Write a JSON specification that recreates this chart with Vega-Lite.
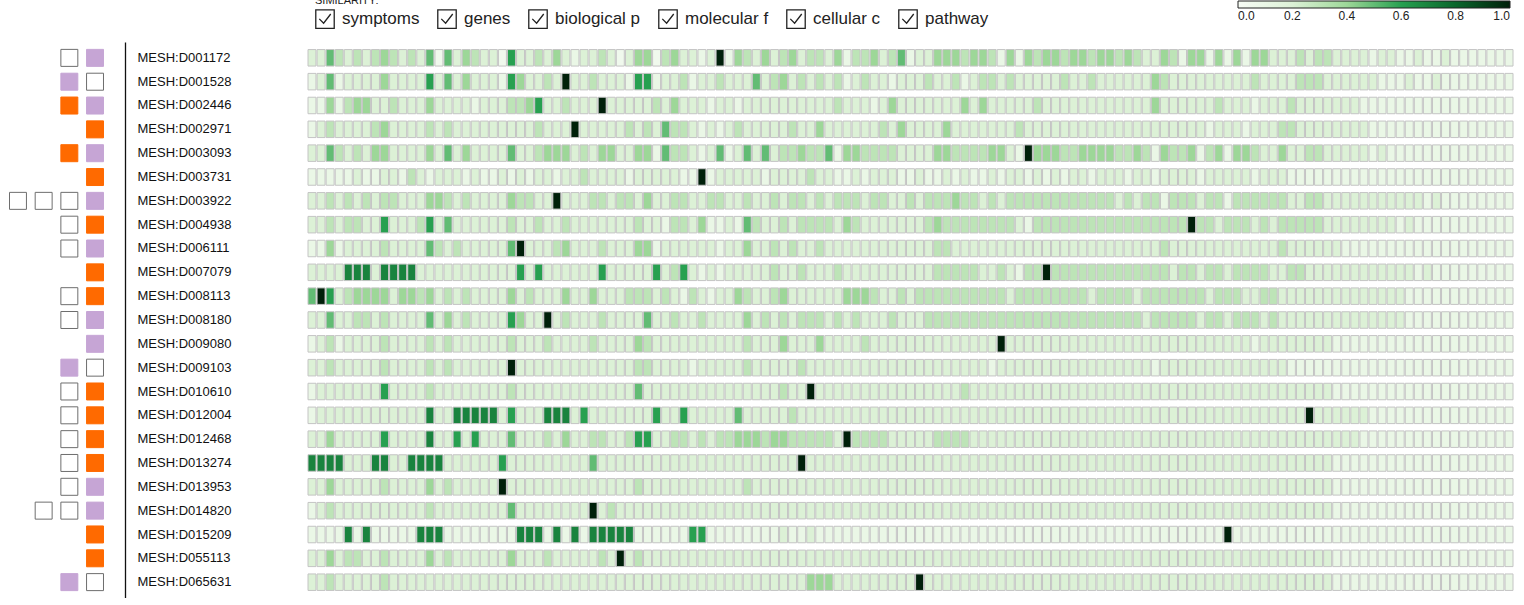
{
"$schema":"https://vega.github.io/schema/vega-lite/v6.json",
"autosize":{"type":"pad"},
"padding":{"left":0,"top":-5,"right":0,"bottom":0},
"background":"#ffffff",
"bounds":"flush",
"spacing":195,
"config":{"view":{"stroke":null,"fill":"#ffffff"},"font":"Liberation Sans"},
"resolve":{"scale":{"x":"independent","y":"independent","color":"independent","fill":"independent","stroke":"independent","shape":"independent"},"legend":{"color":"independent","shape":"independent"}},
"datasets":{
"boxes":[{"r":0,"k":3,"t":"e"},{"r":0,"k":4,"t":"p"},{"r":1,"k":3,"t":"p"},{"r":1,"k":4,"t":"e"},{"r":2,"k":3,"t":"o"},{"r":2,"k":4,"t":"p"},{"r":3,"k":4,"t":"o"},{"r":4,"k":3,"t":"o"},{"r":4,"k":4,"t":"p"},{"r":5,"k":4,"t":"o"},{"r":6,"k":1,"t":"e"},{"r":6,"k":2,"t":"e"},{"r":6,"k":3,"t":"e"},{"r":6,"k":4,"t":"p"},{"r":7,"k":3,"t":"e"},{"r":7,"k":4,"t":"o"},{"r":8,"k":3,"t":"e"},{"r":8,"k":4,"t":"p"},{"r":9,"k":4,"t":"o"},{"r":10,"k":3,"t":"e"},{"r":10,"k":4,"t":"o"},{"r":11,"k":3,"t":"e"},{"r":11,"k":4,"t":"p"},{"r":12,"k":4,"t":"p"},{"r":13,"k":3,"t":"p"},{"r":13,"k":4,"t":"e"},{"r":14,"k":3,"t":"e"},{"r":14,"k":4,"t":"o"},{"r":15,"k":3,"t":"e"},{"r":15,"k":4,"t":"o"},{"r":16,"k":3,"t":"e"},{"r":16,"k":4,"t":"o"},{"r":17,"k":3,"t":"e"},{"r":17,"k":4,"t":"o"},{"r":18,"k":3,"t":"e"},{"r":18,"k":4,"t":"p"},{"r":19,"k":2,"t":"e"},{"r":19,"k":3,"t":"e"},{"r":19,"k":4,"t":"p"},{"r":20,"k":4,"t":"o"},{"r":21,"k":4,"t":"o"},{"r":22,"k":3,"t":"p"},{"r":22,"k":4,"t":"e"}],
"sim":[{"s":"symptoms"},{"s":"genes"},{"s":"biological p"},{"s":"molecular f"},{"s":"cellular c"},{"s":"pathway"}],
"cells":[
{"r":0,"c":0,"v":2},{"r":0,"c":1,"v":2},{"r":0,"c":2,"v":5},{"r":0,"c":3,"v":3},{"r":0,"c":4,"v":2},{"r":0,"c":5,"v":3},{"r":0,"c":6,"v":2},{"r":0,"c":7,"v":3},{"r":0,"c":8,"v":4},{"r":0,"c":9,"v":3},
{"r":0,"c":10,"v":2},{"r":0,"c":11,"v":3},{"r":0,"c":12,"v":2},{"r":0,"c":13,"v":5},{"r":0,"c":14,"v":0.5},{"r":0,"c":15,"v":5},{"r":0,"c":16,"v":2},{"r":0,"c":17,"v":4},{"r":0,"c":18,"v":3},{"r":0,"c":19,"v":2},
{"r":0,"c":20,"v":2},{"r":0,"c":21,"v":0.5},{"r":0,"c":22,"v":6},{"r":0,"c":23,"v":2},{"r":0,"c":24,"v":2},{"r":0,"c":25,"v":3},{"r":0,"c":26,"v":2},{"r":0,"c":27,"v":4},{"r":0,"c":28,"v":2},{"r":0,"c":29,"v":1},
{"r":0,"c":30,"v":2},{"r":0,"c":31,"v":2},{"r":0,"c":32,"v":3},{"r":0,"c":33,"v":2},{"r":0,"c":34,"v":0.5},{"r":0,"c":35,"v":2},{"r":0,"c":36,"v":4},{"r":0,"c":37,"v":4},{"r":0,"c":38,"v":0.5},{"r":0,"c":39,"v":3},
{"r":0,"c":40,"v":4},{"r":0,"c":41,"v":2},{"r":0,"c":42,"v":2},{"r":0,"c":43,"v":1},{"r":0,"c":44,"v":2},{"r":0,"c":45,"v":10},{"r":0,"c":46,"v":1},{"r":0,"c":47,"v":4},{"r":0,"c":48,"v":3},{"r":0,"c":49,"v":2},
{"r":0,"c":50,"v":4},{"r":0,"c":51,"v":2},{"r":0,"c":52,"v":3},{"r":0,"c":53,"v":4},{"r":0,"c":54,"v":2},{"r":0,"c":55,"v":3},{"r":0,"c":56,"v":3},{"r":0,"c":57,"v":2},{"r":0,"c":58,"v":4},{"r":0,"c":59,"v":1},
{"r":0,"c":60,"v":3},{"r":0,"c":61,"v":3},{"r":0,"c":62,"v":4},{"r":0,"c":63,"v":2},{"r":0,"c":64,"v":3},{"r":0,"c":65,"v":5},{"r":0,"c":66,"v":1},{"r":0,"c":67,"v":2},{"r":0,"c":68,"v":2},{"r":0,"c":69,"v":4},
{"r":0,"c":70,"v":4},{"r":0,"c":71,"v":4},{"r":0,"c":72,"v":3},{"r":0,"c":73,"v":4},{"r":0,"c":74,"v":4},{"r":0,"c":75,"v":3},{"r":0,"c":76,"v":1},{"r":0,"c":77,"v":4},{"r":0,"c":78,"v":1},{"r":0,"c":79,"v":4},
{"r":0,"c":80,"v":3},{"r":0,"c":81,"v":4},{"r":0,"c":82,"v":4},{"r":0,"c":83,"v":3},{"r":0,"c":84,"v":4},{"r":0,"c":85,"v":4},{"r":0,"c":86,"v":3},{"r":0,"c":87,"v":4},{"r":0,"c":88,"v":4},{"r":0,"c":89,"v":3},
{"r":0,"c":90,"v":4},{"r":0,"c":91,"v":3},{"r":0,"c":92,"v":2},{"r":0,"c":93,"v":2},{"r":0,"c":94,"v":4},{"r":0,"c":95,"v":3},{"r":0,"c":96,"v":1},{"r":0,"c":97,"v":4},{"r":0,"c":98,"v":4},{"r":0,"c":99,"v":1},
{"r":0,"c":100,"v":4},{"r":0,"c":101,"v":1},{"r":0,"c":102,"v":4},{"r":0,"c":103,"v":1},{"r":0,"c":104,"v":4},{"r":0,"c":105,"v":4},{"r":0,"c":106,"v":2},{"r":0,"c":107,"v":2},{"r":0,"c":108,"v":2},{"r":0,"c":109,"v":3},
{"r":0,"c":110,"v":2},{"r":0,"c":111,"v":3},{"r":0,"c":112,"v":3},{"r":0,"c":113,"v":2},{"r":0,"c":114,"v":2},{"r":0,"c":115,"v":2},{"r":0,"c":116,"v":2},{"r":0,"c":117,"v":1},{"r":0,"c":118,"v":2},{"r":0,"c":119,"v":2},
{"r":0,"c":120,"v":1},{"r":0,"c":121,"v":1},{"r":0,"c":122,"v":2},{"r":0,"c":123,"v":1},{"r":0,"c":124,"v":1},{"r":0,"c":125,"v":2},{"r":0,"c":126,"v":1},{"r":0,"c":127,"v":1},{"r":0,"c":128,"v":1},{"r":0,"c":129,"v":1},
{"r":0,"c":130,"v":1},{"r":0,"c":131,"v":1},{"r":0,"c":132,"v":1},
{"r":1,"c":0,"v":1},{"r":1,"c":1,"v":2},{"r":1,"c":2,"v":5},{"r":1,"c":3,"v":1},{"r":1,"c":4,"v":2},{"r":1,"c":5,"v":2},{"r":1,"c":6,"v":2},{"r":1,"c":7,"v":2},{"r":1,"c":8,"v":4},{"r":1,"c":9,"v":2},
{"r":1,"c":10,"v":2},{"r":1,"c":11,"v":2},{"r":1,"c":12,"v":2},{"r":1,"c":13,"v":6},{"r":1,"c":14,"v":2},{"r":1,"c":15,"v":5},{"r":1,"c":16,"v":2},{"r":1,"c":17,"v":4},{"r":1,"c":18,"v":2},{"r":1,"c":19,"v":2},
{"r":1,"c":20,"v":2},{"r":1,"c":21,"v":1},{"r":1,"c":22,"v":6},{"r":1,"c":23,"v":4},{"r":1,"c":24,"v":2},{"r":1,"c":25,"v":2},{"r":1,"c":26,"v":3},{"r":1,"c":27,"v":2},{"r":1,"c":28,"v":10},{"r":1,"c":29,"v":2},
{"r":1,"c":30,"v":2},{"r":1,"c":31,"v":3},{"r":1,"c":32,"v":2},{"r":1,"c":33,"v":2},{"r":1,"c":34,"v":2},{"r":1,"c":35,"v":1},{"r":1,"c":36,"v":6},{"r":1,"c":37,"v":6},{"r":1,"c":38,"v":1},{"r":1,"c":39,"v":2},
{"r":1,"c":40,"v":2},{"r":1,"c":41,"v":3},{"r":1,"c":42,"v":1},{"r":1,"c":43,"v":2},{"r":1,"c":44,"v":2},{"r":1,"c":45,"v":3},{"r":1,"c":46,"v":2},{"r":1,"c":47,"v":2},{"r":1,"c":48,"v":2},{"r":1,"c":49,"v":5},
{"r":1,"c":50,"v":2},{"r":1,"c":51,"v":3},{"r":1,"c":52,"v":4},{"r":1,"c":53,"v":2},{"r":1,"c":54,"v":3},{"r":1,"c":55,"v":2},{"r":1,"c":56,"v":3},{"r":1,"c":57,"v":2},{"r":1,"c":58,"v":3},{"r":1,"c":59,"v":1},
{"r":1,"c":60,"v":2},{"r":1,"c":61,"v":3},{"r":1,"c":62,"v":2},{"r":1,"c":63,"v":2},{"r":1,"c":64,"v":1},{"r":1,"c":65,"v":2},{"r":1,"c":66,"v":2},{"r":1,"c":67,"v":2},{"r":1,"c":68,"v":3},{"r":1,"c":69,"v":2},
{"r":1,"c":70,"v":2},{"r":1,"c":71,"v":3},{"r":1,"c":72,"v":1},{"r":1,"c":73,"v":2},{"r":1,"c":74,"v":3},{"r":1,"c":75,"v":3},{"r":1,"c":76,"v":2},{"r":1,"c":77,"v":3},{"r":1,"c":78,"v":2},{"r":1,"c":79,"v":2},
{"r":1,"c":80,"v":2},{"r":1,"c":81,"v":2},{"r":1,"c":82,"v":2},{"r":1,"c":83,"v":3},{"r":1,"c":84,"v":2},{"r":1,"c":85,"v":2},{"r":1,"c":86,"v":3},{"r":1,"c":87,"v":2},{"r":1,"c":88,"v":2},{"r":1,"c":89,"v":2},
{"r":1,"c":90,"v":2},{"r":1,"c":91,"v":2},{"r":1,"c":92,"v":2},{"r":1,"c":93,"v":4},{"r":1,"c":94,"v":3},{"r":1,"c":95,"v":2},{"r":1,"c":96,"v":2},{"r":1,"c":97,"v":2},{"r":1,"c":98,"v":2},{"r":1,"c":99,"v":2},
{"r":1,"c":100,"v":2},{"r":1,"c":101,"v":2},{"r":1,"c":102,"v":2},{"r":1,"c":103,"v":2},{"r":1,"c":104,"v":3},{"r":1,"c":105,"v":2},{"r":1,"c":106,"v":2},{"r":1,"c":107,"v":2},{"r":1,"c":108,"v":2},{"r":1,"c":109,"v":3},
{"r":1,"c":110,"v":3},{"r":1,"c":111,"v":3},{"r":1,"c":112,"v":2},{"r":1,"c":113,"v":2},{"r":1,"c":114,"v":2},{"r":1,"c":115,"v":2},{"r":1,"c":116,"v":2},{"r":1,"c":117,"v":2},{"r":1,"c":118,"v":1},{"r":1,"c":119,"v":1},
{"r":1,"c":120,"v":1},{"r":1,"c":121,"v":2},{"r":1,"c":122,"v":1},{"r":1,"c":123,"v":1},{"r":1,"c":124,"v":2},{"r":1,"c":125,"v":1},{"r":1,"c":126,"v":1},{"r":1,"c":127,"v":1},{"r":1,"c":128,"v":1},{"r":1,"c":129,"v":1},
{"r":1,"c":130,"v":1},{"r":1,"c":131,"v":1},{"r":1,"c":132,"v":1},
{"r":2,"c":0,"v":1},{"r":2,"c":1,"v":1},{"r":2,"c":2,"v":4},{"r":2,"c":3,"v":1},{"r":2,"c":4,"v":3},{"r":2,"c":5,"v":4},{"r":2,"c":6,"v":4},{"r":2,"c":7,"v":2},{"r":2,"c":8,"v":2},{"r":2,"c":9,"v":3},
{"r":2,"c":10,"v":2},{"r":2,"c":11,"v":2},{"r":2,"c":12,"v":2},{"r":2,"c":13,"v":4},{"r":2,"c":14,"v":2},{"r":2,"c":15,"v":2},{"r":2,"c":16,"v":2},{"r":2,"c":17,"v":2},{"r":2,"c":18,"v":1},{"r":2,"c":19,"v":2},
{"r":2,"c":20,"v":2},{"r":2,"c":21,"v":2},{"r":2,"c":22,"v":3},{"r":2,"c":23,"v":3},{"r":2,"c":24,"v":4},{"r":2,"c":25,"v":6},{"r":2,"c":26,"v":2},{"r":2,"c":27,"v":2},{"r":2,"c":28,"v":3},{"r":2,"c":29,"v":2},
{"r":2,"c":30,"v":2},{"r":2,"c":31,"v":2},{"r":2,"c":32,"v":10},{"r":2,"c":33,"v":2},{"r":2,"c":34,"v":2},{"r":2,"c":35,"v":2},{"r":2,"c":36,"v":2},{"r":2,"c":37,"v":2},{"r":2,"c":38,"v":3},{"r":2,"c":39,"v":2},
{"r":2,"c":40,"v":4},{"r":2,"c":41,"v":2},{"r":2,"c":42,"v":2},{"r":2,"c":43,"v":2},{"r":2,"c":44,"v":1},{"r":2,"c":45,"v":2},{"r":2,"c":46,"v":2},{"r":2,"c":47,"v":1},{"r":2,"c":48,"v":2},{"r":2,"c":49,"v":2},
{"r":2,"c":50,"v":2},{"r":2,"c":51,"v":2},{"r":2,"c":52,"v":2},{"r":2,"c":53,"v":2},{"r":2,"c":54,"v":2},{"r":2,"c":55,"v":2},{"r":2,"c":56,"v":2},{"r":2,"c":57,"v":2},{"r":2,"c":58,"v":3},{"r":2,"c":59,"v":2},
{"r":2,"c":60,"v":2},{"r":2,"c":61,"v":2},{"r":2,"c":62,"v":1},{"r":2,"c":63,"v":2},{"r":2,"c":64,"v":4},{"r":2,"c":65,"v":2},{"r":2,"c":66,"v":2},{"r":2,"c":67,"v":2},{"r":2,"c":68,"v":2},{"r":2,"c":69,"v":2},
{"r":2,"c":70,"v":2},{"r":2,"c":71,"v":2},{"r":2,"c":72,"v":4},{"r":2,"c":73,"v":2},{"r":2,"c":74,"v":4},{"r":2,"c":75,"v":2},{"r":2,"c":76,"v":2},{"r":2,"c":77,"v":2},{"r":2,"c":78,"v":2},{"r":2,"c":79,"v":2},
{"r":2,"c":80,"v":3},{"r":2,"c":81,"v":2},{"r":2,"c":82,"v":2},{"r":2,"c":83,"v":2},{"r":2,"c":84,"v":2},{"r":2,"c":85,"v":2},{"r":2,"c":86,"v":2},{"r":2,"c":87,"v":2},{"r":2,"c":88,"v":2},{"r":2,"c":89,"v":2},
{"r":2,"c":90,"v":2},{"r":2,"c":91,"v":2},{"r":2,"c":92,"v":2},{"r":2,"c":93,"v":4},{"r":2,"c":94,"v":2},{"r":2,"c":95,"v":2},{"r":2,"c":96,"v":2},{"r":2,"c":97,"v":2},{"r":2,"c":98,"v":2},{"r":2,"c":99,"v":2},
{"r":2,"c":100,"v":3},{"r":2,"c":101,"v":2},{"r":2,"c":102,"v":2},{"r":2,"c":103,"v":2},{"r":2,"c":104,"v":1},{"r":2,"c":105,"v":2},{"r":2,"c":106,"v":2},{"r":2,"c":107,"v":2},{"r":2,"c":108,"v":3},{"r":2,"c":109,"v":2},
{"r":2,"c":110,"v":2},{"r":2,"c":111,"v":2},{"r":2,"c":112,"v":2},{"r":2,"c":113,"v":2},{"r":2,"c":114,"v":2},{"r":2,"c":115,"v":2},{"r":2,"c":116,"v":1},{"r":2,"c":117,"v":1},{"r":2,"c":118,"v":1},{"r":2,"c":119,"v":1},
{"r":2,"c":120,"v":1},{"r":2,"c":121,"v":1},{"r":2,"c":122,"v":1},{"r":2,"c":123,"v":1},{"r":2,"c":124,"v":1},{"r":2,"c":125,"v":1},{"r":2,"c":126,"v":1},{"r":2,"c":127,"v":1},{"r":2,"c":128,"v":1},{"r":2,"c":129,"v":1},
{"r":2,"c":130,"v":1},{"r":2,"c":131,"v":1},{"r":2,"c":132,"v":1},
{"r":3,"c":0,"v":1},{"r":3,"c":1,"v":2},{"r":3,"c":2,"v":3},{"r":3,"c":3,"v":2},{"r":3,"c":4,"v":2},{"r":3,"c":5,"v":2},{"r":3,"c":6,"v":2},{"r":3,"c":7,"v":3},{"r":3,"c":8,"v":4},{"r":3,"c":9,"v":2},
{"r":3,"c":10,"v":2},{"r":3,"c":11,"v":2},{"r":3,"c":12,"v":2},{"r":3,"c":13,"v":3},{"r":3,"c":14,"v":2},{"r":3,"c":15,"v":3},{"r":3,"c":16,"v":2},{"r":3,"c":17,"v":2},{"r":3,"c":18,"v":2},{"r":3,"c":19,"v":2},
{"r":3,"c":20,"v":2},{"r":3,"c":21,"v":2},{"r":3,"c":22,"v":2},{"r":3,"c":23,"v":2},{"r":3,"c":24,"v":2},{"r":3,"c":25,"v":3},{"r":3,"c":26,"v":2},{"r":3,"c":27,"v":2},{"r":3,"c":28,"v":2},{"r":3,"c":29,"v":10},
{"r":3,"c":30,"v":2},{"r":3,"c":31,"v":2},{"r":3,"c":32,"v":2},{"r":3,"c":33,"v":2},{"r":3,"c":34,"v":2},{"r":3,"c":35,"v":3},{"r":3,"c":36,"v":2},{"r":3,"c":37,"v":3},{"r":3,"c":38,"v":2},{"r":3,"c":39,"v":5},
{"r":3,"c":40,"v":3},{"r":3,"c":41,"v":3},{"r":3,"c":42,"v":2},{"r":3,"c":43,"v":1},{"r":3,"c":44,"v":2},{"r":3,"c":45,"v":1},{"r":3,"c":46,"v":2},{"r":3,"c":47,"v":3},{"r":3,"c":48,"v":2},{"r":3,"c":49,"v":2},
{"r":3,"c":50,"v":2},{"r":3,"c":51,"v":2},{"r":3,"c":52,"v":2},{"r":3,"c":53,"v":3},{"r":3,"c":54,"v":2},{"r":3,"c":55,"v":2},{"r":3,"c":56,"v":4},{"r":3,"c":57,"v":2},{"r":3,"c":58,"v":2},{"r":3,"c":59,"v":2},
{"r":3,"c":60,"v":2},{"r":3,"c":61,"v":2},{"r":3,"c":62,"v":2},{"r":3,"c":63,"v":3},{"r":3,"c":64,"v":2},{"r":3,"c":65,"v":4},{"r":3,"c":66,"v":2},{"r":3,"c":67,"v":2},{"r":3,"c":68,"v":2},{"r":3,"c":69,"v":2},
{"r":3,"c":70,"v":4},{"r":3,"c":71,"v":2},{"r":3,"c":72,"v":2},{"r":3,"c":73,"v":2},{"r":3,"c":74,"v":2},{"r":3,"c":75,"v":2},{"r":3,"c":76,"v":2},{"r":3,"c":77,"v":2},{"r":3,"c":78,"v":3},{"r":3,"c":79,"v":2},
{"r":3,"c":80,"v":2},{"r":3,"c":81,"v":2},{"r":3,"c":82,"v":2},{"r":3,"c":83,"v":2},{"r":3,"c":84,"v":2},{"r":3,"c":85,"v":2},{"r":3,"c":86,"v":2},{"r":3,"c":87,"v":2},{"r":3,"c":88,"v":2},{"r":3,"c":89,"v":2},
{"r":3,"c":90,"v":2},{"r":3,"c":91,"v":2},{"r":3,"c":92,"v":2},{"r":3,"c":93,"v":2},{"r":3,"c":94,"v":2},{"r":3,"c":95,"v":2},{"r":3,"c":96,"v":2},{"r":3,"c":97,"v":2},{"r":3,"c":98,"v":2},{"r":3,"c":99,"v":1},
{"r":3,"c":100,"v":2},{"r":3,"c":101,"v":2},{"r":3,"c":102,"v":2},{"r":3,"c":103,"v":1},{"r":3,"c":104,"v":2},{"r":3,"c":105,"v":2},{"r":3,"c":106,"v":2},{"r":3,"c":107,"v":3},{"r":3,"c":108,"v":3},{"r":3,"c":109,"v":2},
{"r":3,"c":110,"v":2},{"r":3,"c":111,"v":2},{"r":3,"c":112,"v":2},{"r":3,"c":113,"v":2},{"r":3,"c":114,"v":2},{"r":3,"c":115,"v":2},{"r":3,"c":116,"v":2},{"r":3,"c":117,"v":1},{"r":3,"c":118,"v":1},{"r":3,"c":119,"v":1},
{"r":3,"c":120,"v":1},{"r":3,"c":121,"v":1},{"r":3,"c":122,"v":1},{"r":3,"c":123,"v":1},{"r":3,"c":124,"v":1},{"r":3,"c":125,"v":1},{"r":3,"c":126,"v":1},{"r":3,"c":127,"v":1},{"r":3,"c":128,"v":1},{"r":3,"c":129,"v":1},
{"r":3,"c":130,"v":1},{"r":3,"c":131,"v":1},{"r":3,"c":132,"v":1},
{"r":4,"c":0,"v":2},{"r":4,"c":1,"v":2},{"r":4,"c":2,"v":5},{"r":4,"c":3,"v":3},{"r":4,"c":4,"v":2},{"r":4,"c":5,"v":3},{"r":4,"c":6,"v":2},{"r":4,"c":7,"v":4},{"r":4,"c":8,"v":4},{"r":4,"c":9,"v":2},
{"r":4,"c":10,"v":2},{"r":4,"c":11,"v":2},{"r":4,"c":12,"v":2},{"r":4,"c":13,"v":4},{"r":4,"c":14,"v":2},{"r":4,"c":15,"v":5},{"r":4,"c":16,"v":2},{"r":4,"c":17,"v":4},{"r":4,"c":18,"v":2},{"r":4,"c":19,"v":2},
{"r":4,"c":20,"v":2},{"r":4,"c":21,"v":2},{"r":4,"c":22,"v":5},{"r":4,"c":23,"v":2},{"r":4,"c":24,"v":2},{"r":4,"c":25,"v":3},{"r":4,"c":26,"v":4},{"r":4,"c":27,"v":4},{"r":4,"c":28,"v":4},{"r":4,"c":29,"v":2},
{"r":4,"c":30,"v":3},{"r":4,"c":31,"v":2},{"r":4,"c":32,"v":4},{"r":4,"c":33,"v":4},{"r":4,"c":34,"v":2},{"r":4,"c":35,"v":2},{"r":4,"c":36,"v":4},{"r":4,"c":37,"v":4},{"r":4,"c":38,"v":1},{"r":4,"c":39,"v":5},
{"r":4,"c":40,"v":3},{"r":4,"c":41,"v":3},{"r":4,"c":42,"v":2},{"r":4,"c":43,"v":1},{"r":4,"c":44,"v":2},{"r":4,"c":45,"v":5},{"r":4,"c":46,"v":1},{"r":4,"c":47,"v":2},{"r":4,"c":48,"v":5},{"r":4,"c":49,"v":2},
{"r":4,"c":50,"v":5},{"r":4,"c":51,"v":2},{"r":4,"c":52,"v":3},{"r":4,"c":53,"v":3},{"r":4,"c":54,"v":4},{"r":4,"c":55,"v":3},{"r":4,"c":56,"v":3},{"r":4,"c":57,"v":5},{"r":4,"c":58,"v":1},{"r":4,"c":59,"v":4},
{"r":4,"c":60,"v":4},{"r":4,"c":61,"v":3},{"r":4,"c":62,"v":3},{"r":4,"c":63,"v":3},{"r":4,"c":64,"v":3},{"r":4,"c":65,"v":2},{"r":4,"c":66,"v":2},{"r":4,"c":67,"v":2},{"r":4,"c":68,"v":2},{"r":4,"c":69,"v":4},
{"r":4,"c":70,"v":4},{"r":4,"c":71,"v":3},{"r":4,"c":72,"v":3},{"r":4,"c":73,"v":3},{"r":4,"c":74,"v":3},{"r":4,"c":75,"v":4},{"r":4,"c":76,"v":4},{"r":4,"c":77,"v":2},{"r":4,"c":78,"v":1},{"r":4,"c":79,"v":10},
{"r":4,"c":80,"v":4},{"r":4,"c":81,"v":4},{"r":4,"c":82,"v":4},{"r":4,"c":83,"v":3},{"r":4,"c":84,"v":3},{"r":4,"c":85,"v":4},{"r":4,"c":86,"v":4},{"r":4,"c":87,"v":4},{"r":4,"c":88,"v":4},{"r":4,"c":89,"v":3},
{"r":4,"c":90,"v":3},{"r":4,"c":91,"v":4},{"r":4,"c":92,"v":3},{"r":4,"c":93,"v":1},{"r":4,"c":94,"v":4},{"r":4,"c":95,"v":3},{"r":4,"c":96,"v":3},{"r":4,"c":97,"v":4},{"r":4,"c":98,"v":1},{"r":4,"c":99,"v":3},
{"r":4,"c":100,"v":4},{"r":4,"c":101,"v":1},{"r":4,"c":102,"v":4},{"r":4,"c":103,"v":4},{"r":4,"c":104,"v":3},{"r":4,"c":105,"v":2},{"r":4,"c":106,"v":2},{"r":4,"c":107,"v":4},{"r":4,"c":108,"v":2},{"r":4,"c":109,"v":2},
{"r":4,"c":110,"v":3},{"r":4,"c":111,"v":3},{"r":4,"c":112,"v":2},{"r":4,"c":113,"v":2},{"r":4,"c":114,"v":2},{"r":4,"c":115,"v":2},{"r":4,"c":116,"v":2},{"r":4,"c":117,"v":1},{"r":4,"c":118,"v":2},{"r":4,"c":119,"v":1},
{"r":4,"c":120,"v":1},{"r":4,"c":121,"v":1},{"r":4,"c":122,"v":1},{"r":4,"c":123,"v":1},{"r":4,"c":124,"v":1},{"r":4,"c":125,"v":1},{"r":4,"c":126,"v":1},{"r":4,"c":127,"v":1},{"r":4,"c":128,"v":1},{"r":4,"c":129,"v":1},
{"r":4,"c":130,"v":1},{"r":4,"c":131,"v":1},{"r":4,"c":132,"v":1},
{"r":5,"c":0,"v":1},{"r":5,"c":1,"v":1},{"r":5,"c":2,"v":1},{"r":5,"c":3,"v":1},{"r":5,"c":4,"v":1},{"r":5,"c":5,"v":2},{"r":5,"c":6,"v":1},{"r":5,"c":7,"v":1},{"r":5,"c":8,"v":2},{"r":5,"c":9,"v":2},
{"r":5,"c":10,"v":1},{"r":5,"c":11,"v":3},{"r":5,"c":12,"v":2},{"r":5,"c":13,"v":1},{"r":5,"c":14,"v":2},{"r":5,"c":15,"v":2},{"r":5,"c":16,"v":2},{"r":5,"c":17,"v":1},{"r":5,"c":18,"v":2},{"r":5,"c":19,"v":1},
{"r":5,"c":20,"v":1},{"r":5,"c":21,"v":2},{"r":5,"c":22,"v":1},{"r":5,"c":23,"v":2},{"r":5,"c":24,"v":1},{"r":5,"c":25,"v":2},{"r":5,"c":26,"v":2},{"r":5,"c":27,"v":1},{"r":5,"c":28,"v":2},{"r":5,"c":29,"v":2},
{"r":5,"c":30,"v":3},{"r":5,"c":31,"v":2},{"r":5,"c":32,"v":2},{"r":5,"c":33,"v":2},{"r":5,"c":34,"v":2},{"r":5,"c":35,"v":1},{"r":5,"c":36,"v":2},{"r":5,"c":37,"v":2},{"r":5,"c":38,"v":2},{"r":5,"c":39,"v":2},
{"r":5,"c":40,"v":2},{"r":5,"c":41,"v":1},{"r":5,"c":42,"v":1},{"r":5,"c":43,"v":10},{"r":5,"c":44,"v":1},{"r":5,"c":45,"v":2},{"r":5,"c":46,"v":2},{"r":5,"c":47,"v":2},{"r":5,"c":48,"v":2},{"r":5,"c":49,"v":2},
{"r":5,"c":50,"v":1},{"r":5,"c":51,"v":2},{"r":5,"c":52,"v":2},{"r":5,"c":53,"v":2},{"r":5,"c":54,"v":2},{"r":5,"c":55,"v":3},{"r":5,"c":56,"v":2},{"r":5,"c":57,"v":2},{"r":5,"c":58,"v":1},{"r":5,"c":59,"v":1},
{"r":5,"c":60,"v":2},{"r":5,"c":61,"v":1},{"r":5,"c":62,"v":2},{"r":5,"c":63,"v":2},{"r":5,"c":64,"v":2},{"r":5,"c":65,"v":1},{"r":5,"c":66,"v":1},{"r":5,"c":67,"v":2},{"r":5,"c":68,"v":1},{"r":5,"c":69,"v":1},
{"r":5,"c":70,"v":2},{"r":5,"c":71,"v":1},{"r":5,"c":72,"v":2},{"r":5,"c":73,"v":1},{"r":5,"c":74,"v":1},{"r":5,"c":75,"v":2},{"r":5,"c":76,"v":1},{"r":5,"c":77,"v":2},{"r":5,"c":78,"v":2},{"r":5,"c":79,"v":1},
{"r":5,"c":80,"v":2},{"r":5,"c":81,"v":1},{"r":5,"c":82,"v":2},{"r":5,"c":83,"v":1},{"r":5,"c":84,"v":2},{"r":5,"c":85,"v":2},{"r":5,"c":86,"v":1},{"r":5,"c":87,"v":2},{"r":5,"c":88,"v":2},{"r":5,"c":89,"v":2},
{"r":5,"c":90,"v":1},{"r":5,"c":91,"v":2},{"r":5,"c":92,"v":2},{"r":5,"c":93,"v":1},{"r":5,"c":94,"v":2},{"r":5,"c":95,"v":2},{"r":5,"c":96,"v":2},{"r":5,"c":97,"v":2},{"r":5,"c":98,"v":1},{"r":5,"c":99,"v":2},
{"r":5,"c":100,"v":2},{"r":5,"c":101,"v":2},{"r":5,"c":102,"v":2},{"r":5,"c":103,"v":2},{"r":5,"c":104,"v":1},{"r":5,"c":105,"v":2},{"r":5,"c":106,"v":2},{"r":5,"c":107,"v":2},{"r":5,"c":108,"v":1},{"r":5,"c":109,"v":1},
{"r":5,"c":110,"v":1},{"r":5,"c":111,"v":1},{"r":5,"c":112,"v":1},{"r":5,"c":113,"v":1},{"r":5,"c":114,"v":1},{"r":5,"c":115,"v":1},{"r":5,"c":116,"v":1},{"r":5,"c":117,"v":1},{"r":5,"c":118,"v":1},{"r":5,"c":119,"v":1},
{"r":5,"c":120,"v":1},{"r":5,"c":121,"v":1},{"r":5,"c":122,"v":1},{"r":5,"c":123,"v":1},{"r":5,"c":124,"v":1},{"r":5,"c":125,"v":1},{"r":5,"c":126,"v":1},{"r":5,"c":127,"v":1},{"r":5,"c":128,"v":1},{"r":5,"c":129,"v":1},
{"r":5,"c":130,"v":1},{"r":5,"c":131,"v":1},{"r":5,"c":132,"v":1},
{"r":6,"c":0,"v":2},{"r":6,"c":1,"v":2},{"r":6,"c":2,"v":3},{"r":6,"c":3,"v":2},{"r":6,"c":4,"v":3},{"r":6,"c":5,"v":2},{"r":6,"c":6,"v":3},{"r":6,"c":7,"v":2},{"r":6,"c":8,"v":3},{"r":6,"c":9,"v":3},
{"r":6,"c":10,"v":2},{"r":6,"c":11,"v":2},{"r":6,"c":12,"v":2},{"r":6,"c":13,"v":4},{"r":6,"c":14,"v":4},{"r":6,"c":15,"v":3},{"r":6,"c":16,"v":2},{"r":6,"c":17,"v":3},{"r":6,"c":18,"v":2},{"r":6,"c":19,"v":2},
{"r":6,"c":20,"v":2},{"r":6,"c":21,"v":2},{"r":6,"c":22,"v":4},{"r":6,"c":23,"v":3},{"r":6,"c":24,"v":3},{"r":6,"c":25,"v":2},{"r":6,"c":26,"v":2},{"r":6,"c":27,"v":10},{"r":6,"c":28,"v":2},{"r":6,"c":29,"v":2},
{"r":6,"c":30,"v":2},{"r":6,"c":31,"v":3},{"r":6,"c":32,"v":3},{"r":6,"c":33,"v":2},{"r":6,"c":34,"v":3},{"r":6,"c":35,"v":3},{"r":6,"c":36,"v":2},{"r":6,"c":37,"v":4},{"r":6,"c":38,"v":2},{"r":6,"c":39,"v":2},
{"r":6,"c":40,"v":3},{"r":6,"c":41,"v":3},{"r":6,"c":42,"v":2},{"r":6,"c":43,"v":2},{"r":6,"c":44,"v":3},{"r":6,"c":45,"v":3},{"r":6,"c":46,"v":2},{"r":6,"c":47,"v":2},{"r":6,"c":48,"v":3},{"r":6,"c":49,"v":2},
{"r":6,"c":50,"v":2},{"r":6,"c":51,"v":3},{"r":6,"c":52,"v":2},{"r":6,"c":53,"v":3},{"r":6,"c":54,"v":3},{"r":6,"c":55,"v":2},{"r":6,"c":56,"v":3},{"r":6,"c":57,"v":2},{"r":6,"c":58,"v":3},{"r":6,"c":59,"v":3},
{"r":6,"c":60,"v":3},{"r":6,"c":61,"v":2},{"r":6,"c":62,"v":3},{"r":6,"c":63,"v":3},{"r":6,"c":64,"v":2},{"r":6,"c":65,"v":2},{"r":6,"c":66,"v":3},{"r":6,"c":67,"v":2},{"r":6,"c":68,"v":3},{"r":6,"c":69,"v":3},
{"r":6,"c":70,"v":3},{"r":6,"c":71,"v":4},{"r":6,"c":72,"v":3},{"r":6,"c":73,"v":3},{"r":6,"c":74,"v":2},{"r":6,"c":75,"v":3},{"r":6,"c":76,"v":2},{"r":6,"c":77,"v":3},{"r":6,"c":78,"v":3},{"r":6,"c":79,"v":3},
{"r":6,"c":80,"v":3},{"r":6,"c":81,"v":3},{"r":6,"c":82,"v":3},{"r":6,"c":83,"v":3},{"r":6,"c":84,"v":3},{"r":6,"c":85,"v":3},{"r":6,"c":86,"v":3},{"r":6,"c":87,"v":3},{"r":6,"c":88,"v":3},{"r":6,"c":89,"v":2},
{"r":6,"c":90,"v":3},{"r":6,"c":91,"v":2},{"r":6,"c":92,"v":3},{"r":6,"c":93,"v":3},{"r":6,"c":94,"v":1},{"r":6,"c":95,"v":3},{"r":6,"c":96,"v":3},{"r":6,"c":97,"v":3},{"r":6,"c":98,"v":2},{"r":6,"c":99,"v":3},
{"r":6,"c":100,"v":3},{"r":6,"c":101,"v":1},{"r":6,"c":102,"v":3},{"r":6,"c":103,"v":3},{"r":6,"c":104,"v":3},{"r":6,"c":105,"v":3},{"r":6,"c":106,"v":3},{"r":6,"c":107,"v":3},{"r":6,"c":108,"v":2},{"r":6,"c":109,"v":2},
{"r":6,"c":110,"v":3},{"r":6,"c":111,"v":3},{"r":6,"c":112,"v":2},{"r":6,"c":113,"v":2},{"r":6,"c":114,"v":2},{"r":6,"c":115,"v":2},{"r":6,"c":116,"v":2},{"r":6,"c":117,"v":2},{"r":6,"c":118,"v":2},{"r":6,"c":119,"v":2},
{"r":6,"c":120,"v":2},{"r":6,"c":121,"v":2},{"r":6,"c":122,"v":2},{"r":6,"c":123,"v":1},{"r":6,"c":124,"v":2},{"r":6,"c":125,"v":1},{"r":6,"c":126,"v":1},{"r":6,"c":127,"v":1},{"r":6,"c":128,"v":1},{"r":6,"c":129,"v":1},
{"r":6,"c":130,"v":1},{"r":6,"c":131,"v":1},{"r":6,"c":132,"v":1},
{"r":7,"c":0,"v":2},{"r":7,"c":1,"v":2},{"r":7,"c":2,"v":3},{"r":7,"c":3,"v":2},{"r":7,"c":4,"v":3},{"r":7,"c":5,"v":3},{"r":7,"c":6,"v":2},{"r":7,"c":7,"v":2},{"r":7,"c":8,"v":6},{"r":7,"c":9,"v":2},
{"r":7,"c":10,"v":2},{"r":7,"c":11,"v":2},{"r":7,"c":12,"v":3},{"r":7,"c":13,"v":6},{"r":7,"c":14,"v":2},{"r":7,"c":15,"v":5},{"r":7,"c":16,"v":2},{"r":7,"c":17,"v":2},{"r":7,"c":18,"v":2},{"r":7,"c":19,"v":2},
{"r":7,"c":20,"v":2},{"r":7,"c":21,"v":2},{"r":7,"c":22,"v":3},{"r":7,"c":23,"v":2},{"r":7,"c":24,"v":2},{"r":7,"c":25,"v":3},{"r":7,"c":26,"v":2},{"r":7,"c":27,"v":2},{"r":7,"c":28,"v":3},{"r":7,"c":29,"v":2},
{"r":7,"c":30,"v":2},{"r":7,"c":31,"v":2},{"r":7,"c":32,"v":2},{"r":7,"c":33,"v":2},{"r":7,"c":34,"v":2},{"r":7,"c":35,"v":2},{"r":7,"c":36,"v":3},{"r":7,"c":37,"v":2},{"r":7,"c":38,"v":2},{"r":7,"c":39,"v":1},
{"r":7,"c":40,"v":3},{"r":7,"c":41,"v":3},{"r":7,"c":42,"v":2},{"r":7,"c":43,"v":4},{"r":7,"c":44,"v":1},{"r":7,"c":45,"v":1},{"r":7,"c":46,"v":2},{"r":7,"c":47,"v":1},{"r":7,"c":48,"v":5},{"r":7,"c":49,"v":3},
{"r":7,"c":50,"v":2},{"r":7,"c":51,"v":2},{"r":7,"c":52,"v":3},{"r":7,"c":53,"v":2},{"r":7,"c":54,"v":3},{"r":7,"c":55,"v":3},{"r":7,"c":56,"v":3},{"r":7,"c":57,"v":3},{"r":7,"c":58,"v":2},{"r":7,"c":59,"v":4},
{"r":7,"c":60,"v":3},{"r":7,"c":61,"v":2},{"r":7,"c":62,"v":2},{"r":7,"c":63,"v":2},{"r":7,"c":64,"v":2},{"r":7,"c":65,"v":2},{"r":7,"c":66,"v":2},{"r":7,"c":67,"v":2},{"r":7,"c":68,"v":3},{"r":7,"c":69,"v":4},
{"r":7,"c":70,"v":3},{"r":7,"c":71,"v":3},{"r":7,"c":72,"v":3},{"r":7,"c":73,"v":3},{"r":7,"c":74,"v":3},{"r":7,"c":75,"v":3},{"r":7,"c":76,"v":3},{"r":7,"c":77,"v":3},{"r":7,"c":78,"v":2},{"r":7,"c":79,"v":1},
{"r":7,"c":80,"v":3},{"r":7,"c":81,"v":3},{"r":7,"c":82,"v":3},{"r":7,"c":83,"v":3},{"r":7,"c":84,"v":3},{"r":7,"c":85,"v":3},{"r":7,"c":86,"v":3},{"r":7,"c":87,"v":3},{"r":7,"c":88,"v":3},{"r":7,"c":89,"v":3},
{"r":7,"c":90,"v":3},{"r":7,"c":91,"v":3},{"r":7,"c":92,"v":3},{"r":7,"c":93,"v":3},{"r":7,"c":94,"v":3},{"r":7,"c":95,"v":3},{"r":7,"c":96,"v":3},{"r":7,"c":97,"v":10},{"r":7,"c":98,"v":3},{"r":7,"c":99,"v":3},
{"r":7,"c":100,"v":2},{"r":7,"c":101,"v":3},{"r":7,"c":102,"v":3},{"r":7,"c":103,"v":3},{"r":7,"c":104,"v":2},{"r":7,"c":105,"v":3},{"r":7,"c":106,"v":2},{"r":7,"c":107,"v":3},{"r":7,"c":108,"v":3},{"r":7,"c":109,"v":3},
{"r":7,"c":110,"v":3},{"r":7,"c":111,"v":3},{"r":7,"c":112,"v":2},{"r":7,"c":113,"v":2},{"r":7,"c":114,"v":2},{"r":7,"c":115,"v":2},{"r":7,"c":116,"v":2},{"r":7,"c":117,"v":2},{"r":7,"c":118,"v":2},{"r":7,"c":119,"v":2},
{"r":7,"c":120,"v":1},{"r":7,"c":121,"v":2},{"r":7,"c":122,"v":1},{"r":7,"c":123,"v":1},{"r":7,"c":124,"v":1},{"r":7,"c":125,"v":1},{"r":7,"c":126,"v":1},{"r":7,"c":127,"v":1},{"r":7,"c":128,"v":1},{"r":7,"c":129,"v":1},
{"r":7,"c":130,"v":1},{"r":7,"c":131,"v":1},{"r":7,"c":132,"v":1},
{"r":8,"c":0,"v":1},{"r":8,"c":1,"v":1},{"r":8,"c":2,"v":4},{"r":8,"c":3,"v":1},{"r":8,"c":4,"v":2},{"r":8,"c":5,"v":2},{"r":8,"c":6,"v":2},{"r":8,"c":7,"v":2},{"r":8,"c":8,"v":3},{"r":8,"c":9,"v":2},
{"r":8,"c":10,"v":2},{"r":8,"c":11,"v":2},{"r":8,"c":12,"v":2},{"r":8,"c":13,"v":5},{"r":8,"c":14,"v":3},{"r":8,"c":15,"v":2},{"r":8,"c":16,"v":3},{"r":8,"c":17,"v":2},{"r":8,"c":18,"v":2},{"r":8,"c":19,"v":2},
{"r":8,"c":20,"v":2},{"r":8,"c":21,"v":2},{"r":8,"c":22,"v":5},{"r":8,"c":23,"v":10},{"r":8,"c":24,"v":2},{"r":8,"c":25,"v":2},{"r":8,"c":26,"v":2},{"r":8,"c":27,"v":3},{"r":8,"c":28,"v":4},{"r":8,"c":29,"v":2},
{"r":8,"c":30,"v":2},{"r":8,"c":31,"v":2},{"r":8,"c":32,"v":3},{"r":8,"c":33,"v":2},{"r":8,"c":34,"v":2},{"r":8,"c":35,"v":2},{"r":8,"c":36,"v":4},{"r":8,"c":37,"v":4},{"r":8,"c":38,"v":1},{"r":8,"c":39,"v":2},
{"r":8,"c":40,"v":2},{"r":8,"c":41,"v":2},{"r":8,"c":42,"v":2},{"r":8,"c":43,"v":2},{"r":8,"c":44,"v":2},{"r":8,"c":45,"v":1},{"r":8,"c":46,"v":2},{"r":8,"c":47,"v":2},{"r":8,"c":48,"v":4},{"r":8,"c":49,"v":2},
{"r":8,"c":50,"v":2},{"r":8,"c":51,"v":3},{"r":8,"c":52,"v":2},{"r":8,"c":53,"v":3},{"r":8,"c":54,"v":2},{"r":8,"c":55,"v":2},{"r":8,"c":56,"v":3},{"r":8,"c":57,"v":2},{"r":8,"c":58,"v":2},{"r":8,"c":59,"v":2},
{"r":8,"c":60,"v":2},{"r":8,"c":61,"v":2},{"r":8,"c":62,"v":2},{"r":8,"c":63,"v":2},{"r":8,"c":64,"v":2},{"r":8,"c":65,"v":2},{"r":8,"c":66,"v":2},{"r":8,"c":67,"v":2},{"r":8,"c":68,"v":2},{"r":8,"c":69,"v":3},
{"r":8,"c":70,"v":3},{"r":8,"c":71,"v":2},{"r":8,"c":72,"v":2},{"r":8,"c":73,"v":2},{"r":8,"c":74,"v":2},{"r":8,"c":75,"v":2},{"r":8,"c":76,"v":2},{"r":8,"c":77,"v":2},{"r":8,"c":78,"v":2},{"r":8,"c":79,"v":2},
{"r":8,"c":80,"v":2},{"r":8,"c":81,"v":2},{"r":8,"c":82,"v":2},{"r":8,"c":83,"v":2},{"r":8,"c":84,"v":2},{"r":8,"c":85,"v":2},{"r":8,"c":86,"v":2},{"r":8,"c":87,"v":2},{"r":8,"c":88,"v":2},{"r":8,"c":89,"v":2},
{"r":8,"c":90,"v":2},{"r":8,"c":91,"v":2},{"r":8,"c":92,"v":2},{"r":8,"c":93,"v":2},{"r":8,"c":94,"v":3},{"r":8,"c":95,"v":2},{"r":8,"c":96,"v":2},{"r":8,"c":97,"v":2},{"r":8,"c":98,"v":2},{"r":8,"c":99,"v":2},
{"r":8,"c":100,"v":2},{"r":8,"c":101,"v":2},{"r":8,"c":102,"v":2},{"r":8,"c":103,"v":2},{"r":8,"c":104,"v":2},{"r":8,"c":105,"v":2},{"r":8,"c":106,"v":2},{"r":8,"c":107,"v":3},{"r":8,"c":108,"v":2},{"r":8,"c":109,"v":2},
{"r":8,"c":110,"v":2},{"r":8,"c":111,"v":2},{"r":8,"c":112,"v":2},{"r":8,"c":113,"v":2},{"r":8,"c":114,"v":1},{"r":8,"c":115,"v":1},{"r":8,"c":116,"v":1},{"r":8,"c":117,"v":1},{"r":8,"c":118,"v":1},{"r":8,"c":119,"v":1},
{"r":8,"c":120,"v":1},{"r":8,"c":121,"v":1},{"r":8,"c":122,"v":1},{"r":8,"c":123,"v":1},{"r":8,"c":124,"v":1},{"r":8,"c":125,"v":1},{"r":8,"c":126,"v":1},{"r":8,"c":127,"v":1},{"r":8,"c":128,"v":1},{"r":8,"c":129,"v":1},
{"r":8,"c":130,"v":1},{"r":8,"c":131,"v":1},{"r":8,"c":132,"v":1},
{"r":9,"c":0,"v":2},{"r":9,"c":1,"v":2},{"r":9,"c":2,"v":2},{"r":9,"c":3,"v":2},{"r":9,"c":4,"v":7},{"r":9,"c":5,"v":7},{"r":9,"c":6,"v":7},{"r":9,"c":7,"v":2},{"r":9,"c":8,"v":7},{"r":9,"c":9,"v":7},
{"r":9,"c":10,"v":7},{"r":9,"c":11,"v":7},{"r":9,"c":12,"v":2},{"r":9,"c":13,"v":2},{"r":9,"c":14,"v":2},{"r":9,"c":15,"v":2},{"r":9,"c":16,"v":2},{"r":9,"c":17,"v":2},{"r":9,"c":18,"v":2},{"r":9,"c":19,"v":2},
{"r":9,"c":20,"v":2},{"r":9,"c":21,"v":2},{"r":9,"c":22,"v":2},{"r":9,"c":23,"v":6},{"r":9,"c":24,"v":2},{"r":9,"c":25,"v":6},{"r":9,"c":26,"v":2},{"r":9,"c":27,"v":2},{"r":9,"c":28,"v":2},{"r":9,"c":29,"v":2},
{"r":9,"c":30,"v":2},{"r":9,"c":31,"v":2},{"r":9,"c":32,"v":6},{"r":9,"c":33,"v":2},{"r":9,"c":34,"v":2},{"r":9,"c":35,"v":2},{"r":9,"c":36,"v":2},{"r":9,"c":37,"v":2},{"r":9,"c":38,"v":6},{"r":9,"c":39,"v":2},
{"r":9,"c":40,"v":3},{"r":9,"c":41,"v":6},{"r":9,"c":42,"v":2},{"r":9,"c":43,"v":1},{"r":9,"c":44,"v":2},{"r":9,"c":45,"v":1},{"r":9,"c":46,"v":2},{"r":9,"c":47,"v":2},{"r":9,"c":48,"v":2},{"r":9,"c":49,"v":2},
{"r":9,"c":50,"v":2},{"r":9,"c":51,"v":3},{"r":9,"c":52,"v":2},{"r":9,"c":53,"v":2},{"r":9,"c":54,"v":3},{"r":9,"c":55,"v":2},{"r":9,"c":56,"v":2},{"r":9,"c":57,"v":2},{"r":9,"c":58,"v":3},{"r":9,"c":59,"v":2},
{"r":9,"c":60,"v":2},{"r":9,"c":61,"v":2},{"r":9,"c":62,"v":2},{"r":9,"c":63,"v":2},{"r":9,"c":64,"v":2},{"r":9,"c":65,"v":2},{"r":9,"c":66,"v":2},{"r":9,"c":67,"v":2},{"r":9,"c":68,"v":2},{"r":9,"c":69,"v":3},
{"r":9,"c":70,"v":3},{"r":9,"c":71,"v":3},{"r":9,"c":72,"v":3},{"r":9,"c":73,"v":3},{"r":9,"c":74,"v":2},{"r":9,"c":75,"v":2},{"r":9,"c":76,"v":3},{"r":9,"c":77,"v":2},{"r":9,"c":78,"v":1},{"r":9,"c":79,"v":3},
{"r":9,"c":80,"v":3},{"r":9,"c":81,"v":10},{"r":9,"c":82,"v":3},{"r":9,"c":83,"v":3},{"r":9,"c":84,"v":3},{"r":9,"c":85,"v":3},{"r":9,"c":86,"v":3},{"r":9,"c":87,"v":3},{"r":9,"c":88,"v":3},{"r":9,"c":89,"v":3},
{"r":9,"c":90,"v":3},{"r":9,"c":91,"v":3},{"r":9,"c":92,"v":3},{"r":9,"c":93,"v":3},{"r":9,"c":94,"v":3},{"r":9,"c":95,"v":2},{"r":9,"c":96,"v":3},{"r":9,"c":97,"v":3},{"r":9,"c":98,"v":2},{"r":9,"c":99,"v":3},
{"r":9,"c":100,"v":3},{"r":9,"c":101,"v":2},{"r":9,"c":102,"v":3},{"r":9,"c":103,"v":3},{"r":9,"c":104,"v":3},{"r":9,"c":105,"v":3},{"r":9,"c":106,"v":2},{"r":9,"c":107,"v":2},{"r":9,"c":108,"v":3},{"r":9,"c":109,"v":3},
{"r":9,"c":110,"v":2},{"r":9,"c":111,"v":2},{"r":9,"c":112,"v":2},{"r":9,"c":113,"v":2},{"r":9,"c":114,"v":2},{"r":9,"c":115,"v":2},{"r":9,"c":116,"v":2},{"r":9,"c":117,"v":2},{"r":9,"c":118,"v":2},{"r":9,"c":119,"v":2},
{"r":9,"c":120,"v":2},{"r":9,"c":121,"v":2},{"r":9,"c":122,"v":1},{"r":9,"c":123,"v":2},{"r":9,"c":124,"v":1},{"r":9,"c":125,"v":1},{"r":9,"c":126,"v":1},{"r":9,"c":127,"v":1},{"r":9,"c":128,"v":1},{"r":9,"c":129,"v":1},
{"r":9,"c":130,"v":1},{"r":9,"c":131,"v":1},{"r":9,"c":132,"v":1},
{"r":10,"c":0,"v":5},{"r":10,"c":1,"v":10},{"r":10,"c":2,"v":6},{"r":10,"c":3,"v":2},{"r":10,"c":4,"v":3},{"r":10,"c":5,"v":4},{"r":10,"c":6,"v":4},{"r":10,"c":7,"v":4},{"r":10,"c":8,"v":4},{"r":10,"c":9,"v":2},
{"r":10,"c":10,"v":4},{"r":10,"c":11,"v":4},{"r":10,"c":12,"v":3},{"r":10,"c":13,"v":4},{"r":10,"c":14,"v":2},{"r":10,"c":15,"v":3},{"r":10,"c":16,"v":2},{"r":10,"c":17,"v":3},{"r":10,"c":18,"v":2},{"r":10,"c":19,"v":2},
{"r":10,"c":20,"v":2},{"r":10,"c":21,"v":2},{"r":10,"c":22,"v":4},{"r":10,"c":23,"v":2},{"r":10,"c":24,"v":3},{"r":10,"c":25,"v":2},{"r":10,"c":26,"v":2},{"r":10,"c":27,"v":2},{"r":10,"c":28,"v":4},{"r":10,"c":29,"v":2},
{"r":10,"c":30,"v":2},{"r":10,"c":31,"v":4},{"r":10,"c":32,"v":2},{"r":10,"c":33,"v":2},{"r":10,"c":34,"v":2},{"r":10,"c":35,"v":3},{"r":10,"c":36,"v":3},{"r":10,"c":37,"v":3},{"r":10,"c":38,"v":2},{"r":10,"c":39,"v":3},
{"r":10,"c":40,"v":2},{"r":10,"c":41,"v":1},{"r":10,"c":42,"v":3},{"r":10,"c":43,"v":2},{"r":10,"c":44,"v":1},{"r":10,"c":45,"v":2},{"r":10,"c":46,"v":2},{"r":10,"c":47,"v":4},{"r":10,"c":48,"v":3},{"r":10,"c":49,"v":2},
{"r":10,"c":50,"v":2},{"r":10,"c":51,"v":3},{"r":10,"c":52,"v":4},{"r":10,"c":53,"v":2},{"r":10,"c":54,"v":2},{"r":10,"c":55,"v":2},{"r":10,"c":56,"v":2},{"r":10,"c":57,"v":2},{"r":10,"c":58,"v":2},{"r":10,"c":59,"v":4},
{"r":10,"c":60,"v":4},{"r":10,"c":61,"v":4},{"r":10,"c":62,"v":3},{"r":10,"c":63,"v":2},{"r":10,"c":64,"v":2},{"r":10,"c":65,"v":3},{"r":10,"c":66,"v":2},{"r":10,"c":67,"v":3},{"r":10,"c":68,"v":3},{"r":10,"c":69,"v":3},
{"r":10,"c":70,"v":3},{"r":10,"c":71,"v":3},{"r":10,"c":72,"v":3},{"r":10,"c":73,"v":3},{"r":10,"c":74,"v":3},{"r":10,"c":75,"v":3},{"r":10,"c":76,"v":3},{"r":10,"c":77,"v":2},{"r":10,"c":78,"v":3},{"r":10,"c":79,"v":3},
{"r":10,"c":80,"v":3},{"r":10,"c":81,"v":3},{"r":10,"c":82,"v":3},{"r":10,"c":83,"v":3},{"r":10,"c":84,"v":3},{"r":10,"c":85,"v":3},{"r":10,"c":86,"v":2},{"r":10,"c":87,"v":3},{"r":10,"c":88,"v":3},{"r":10,"c":89,"v":3},
{"r":10,"c":90,"v":3},{"r":10,"c":91,"v":2},{"r":10,"c":92,"v":3},{"r":10,"c":93,"v":3},{"r":10,"c":94,"v":3},{"r":10,"c":95,"v":3},{"r":10,"c":96,"v":3},{"r":10,"c":97,"v":3},{"r":10,"c":98,"v":3},{"r":10,"c":99,"v":2},
{"r":10,"c":100,"v":3},{"r":10,"c":101,"v":3},{"r":10,"c":102,"v":3},{"r":10,"c":103,"v":2},{"r":10,"c":104,"v":2},{"r":10,"c":105,"v":3},{"r":10,"c":106,"v":3},{"r":10,"c":107,"v":2},{"r":10,"c":108,"v":2},{"r":10,"c":109,"v":2},
{"r":10,"c":110,"v":2},{"r":10,"c":111,"v":2},{"r":10,"c":112,"v":2},{"r":10,"c":113,"v":2},{"r":10,"c":114,"v":2},{"r":10,"c":115,"v":2},{"r":10,"c":116,"v":2},{"r":10,"c":117,"v":2},{"r":10,"c":118,"v":2},{"r":10,"c":119,"v":2},
{"r":10,"c":120,"v":2},{"r":10,"c":121,"v":1},{"r":10,"c":122,"v":1},{"r":10,"c":123,"v":1},{"r":10,"c":124,"v":1},{"r":10,"c":125,"v":1},{"r":10,"c":126,"v":1},{"r":10,"c":127,"v":1},{"r":10,"c":128,"v":1},{"r":10,"c":129,"v":1},
{"r":10,"c":130,"v":1},{"r":10,"c":131,"v":1},{"r":10,"c":132,"v":1},
{"r":11,"c":0,"v":2},{"r":11,"c":1,"v":2},{"r":11,"c":2,"v":5},{"r":11,"c":3,"v":2},{"r":11,"c":4,"v":2},{"r":11,"c":5,"v":3},{"r":11,"c":6,"v":3},{"r":11,"c":7,"v":2},{"r":11,"c":8,"v":3},{"r":11,"c":9,"v":2},
{"r":11,"c":10,"v":2},{"r":11,"c":11,"v":2},{"r":11,"c":12,"v":2},{"r":11,"c":13,"v":5},{"r":11,"c":14,"v":2},{"r":11,"c":15,"v":4},{"r":11,"c":16,"v":2},{"r":11,"c":17,"v":3},{"r":11,"c":18,"v":2},{"r":11,"c":19,"v":2},
{"r":11,"c":20,"v":2},{"r":11,"c":21,"v":2},{"r":11,"c":22,"v":6},{"r":11,"c":23,"v":4},{"r":11,"c":24,"v":2},{"r":11,"c":25,"v":2},{"r":11,"c":26,"v":10},{"r":11,"c":27,"v":2},{"r":11,"c":28,"v":3},{"r":11,"c":29,"v":2},
{"r":11,"c":30,"v":2},{"r":11,"c":31,"v":2},{"r":11,"c":32,"v":3},{"r":11,"c":33,"v":2},{"r":11,"c":34,"v":2},{"r":11,"c":35,"v":2},{"r":11,"c":36,"v":2},{"r":11,"c":37,"v":5},{"r":11,"c":38,"v":2},{"r":11,"c":39,"v":2},
{"r":11,"c":40,"v":3},{"r":11,"c":41,"v":2},{"r":11,"c":42,"v":2},{"r":11,"c":43,"v":3},{"r":11,"c":44,"v":2},{"r":11,"c":45,"v":2},{"r":11,"c":46,"v":2},{"r":11,"c":47,"v":2},{"r":11,"c":48,"v":4},{"r":11,"c":49,"v":2},
{"r":11,"c":50,"v":3},{"r":11,"c":51,"v":2},{"r":11,"c":52,"v":3},{"r":11,"c":53,"v":2},{"r":11,"c":54,"v":3},{"r":11,"c":55,"v":3},{"r":11,"c":56,"v":3},{"r":11,"c":57,"v":2},{"r":11,"c":58,"v":3},{"r":11,"c":59,"v":2},
{"r":11,"c":60,"v":3},{"r":11,"c":61,"v":2},{"r":11,"c":62,"v":2},{"r":11,"c":63,"v":2},{"r":11,"c":64,"v":3},{"r":11,"c":65,"v":2},{"r":11,"c":66,"v":2},{"r":11,"c":67,"v":2},{"r":11,"c":68,"v":3},{"r":11,"c":69,"v":3},
{"r":11,"c":70,"v":3},{"r":11,"c":71,"v":3},{"r":11,"c":72,"v":3},{"r":11,"c":73,"v":3},{"r":11,"c":74,"v":3},{"r":11,"c":75,"v":3},{"r":11,"c":76,"v":3},{"r":11,"c":77,"v":3},{"r":11,"c":78,"v":3},{"r":11,"c":79,"v":3},
{"r":11,"c":80,"v":3},{"r":11,"c":81,"v":3},{"r":11,"c":82,"v":3},{"r":11,"c":83,"v":3},{"r":11,"c":84,"v":3},{"r":11,"c":85,"v":3},{"r":11,"c":86,"v":3},{"r":11,"c":87,"v":3},{"r":11,"c":88,"v":3},{"r":11,"c":89,"v":3},
{"r":11,"c":90,"v":3},{"r":11,"c":91,"v":3},{"r":11,"c":92,"v":2},{"r":11,"c":93,"v":3},{"r":11,"c":94,"v":3},{"r":11,"c":95,"v":3},{"r":11,"c":96,"v":3},{"r":11,"c":97,"v":3},{"r":11,"c":98,"v":2},{"r":11,"c":99,"v":3},
{"r":11,"c":100,"v":3},{"r":11,"c":101,"v":2},{"r":11,"c":102,"v":3},{"r":11,"c":103,"v":3},{"r":11,"c":104,"v":3},{"r":11,"c":105,"v":2},{"r":11,"c":106,"v":3},{"r":11,"c":107,"v":2},{"r":11,"c":108,"v":2},{"r":11,"c":109,"v":2},
{"r":11,"c":110,"v":2},{"r":11,"c":111,"v":2},{"r":11,"c":112,"v":2},{"r":11,"c":113,"v":2},{"r":11,"c":114,"v":2},{"r":11,"c":115,"v":2},{"r":11,"c":116,"v":2},{"r":11,"c":117,"v":2},{"r":11,"c":118,"v":2},{"r":11,"c":119,"v":2},
{"r":11,"c":120,"v":2},{"r":11,"c":121,"v":1},{"r":11,"c":122,"v":1},{"r":11,"c":123,"v":1},{"r":11,"c":124,"v":1},{"r":11,"c":125,"v":1},{"r":11,"c":126,"v":1},{"r":11,"c":127,"v":1},{"r":11,"c":128,"v":1},{"r":11,"c":129,"v":1},
{"r":11,"c":130,"v":1},{"r":11,"c":131,"v":1},{"r":11,"c":132,"v":1},
{"r":12,"c":0,"v":1},{"r":12,"c":1,"v":2},{"r":12,"c":2,"v":3},{"r":12,"c":3,"v":1},{"r":12,"c":4,"v":2},{"r":12,"c":5,"v":2},{"r":12,"c":6,"v":2},{"r":12,"c":7,"v":2},{"r":12,"c":8,"v":3},{"r":12,"c":9,"v":2},
{"r":12,"c":10,"v":2},{"r":12,"c":11,"v":2},{"r":12,"c":12,"v":2},{"r":12,"c":13,"v":3},{"r":12,"c":14,"v":2},{"r":12,"c":15,"v":3},{"r":12,"c":16,"v":2},{"r":12,"c":17,"v":2},{"r":12,"c":18,"v":2},{"r":12,"c":19,"v":2},
{"r":12,"c":20,"v":2},{"r":12,"c":21,"v":2},{"r":12,"c":22,"v":3},{"r":12,"c":23,"v":2},{"r":12,"c":24,"v":2},{"r":12,"c":25,"v":2},{"r":12,"c":26,"v":3},{"r":12,"c":27,"v":2},{"r":12,"c":28,"v":2},{"r":12,"c":29,"v":2},
{"r":12,"c":30,"v":2},{"r":12,"c":31,"v":3},{"r":12,"c":32,"v":2},{"r":12,"c":33,"v":2},{"r":12,"c":34,"v":2},{"r":12,"c":35,"v":2},{"r":12,"c":36,"v":4},{"r":12,"c":37,"v":3},{"r":12,"c":38,"v":2},{"r":12,"c":39,"v":2},
{"r":12,"c":40,"v":2},{"r":12,"c":41,"v":2},{"r":12,"c":42,"v":2},{"r":12,"c":43,"v":2},{"r":12,"c":44,"v":2},{"r":12,"c":45,"v":2},{"r":12,"c":46,"v":2},{"r":12,"c":47,"v":2},{"r":12,"c":48,"v":3},{"r":12,"c":49,"v":2},
{"r":12,"c":50,"v":2},{"r":12,"c":51,"v":2},{"r":12,"c":52,"v":4},{"r":12,"c":53,"v":2},{"r":12,"c":54,"v":2},{"r":12,"c":55,"v":2},{"r":12,"c":56,"v":4},{"r":12,"c":57,"v":2},{"r":12,"c":58,"v":2},{"r":12,"c":59,"v":2},
{"r":12,"c":60,"v":2},{"r":12,"c":61,"v":3},{"r":12,"c":62,"v":2},{"r":12,"c":63,"v":2},{"r":12,"c":64,"v":2},{"r":12,"c":65,"v":2},{"r":12,"c":66,"v":2},{"r":12,"c":67,"v":2},{"r":12,"c":68,"v":2},{"r":12,"c":69,"v":2},
{"r":12,"c":70,"v":2},{"r":12,"c":71,"v":2},{"r":12,"c":72,"v":2},{"r":12,"c":73,"v":2},{"r":12,"c":74,"v":2},{"r":12,"c":75,"v":2},{"r":12,"c":76,"v":10},{"r":12,"c":77,"v":2},{"r":12,"c":78,"v":2},{"r":12,"c":79,"v":2},
{"r":12,"c":80,"v":2},{"r":12,"c":81,"v":2},{"r":12,"c":82,"v":2},{"r":12,"c":83,"v":2},{"r":12,"c":84,"v":2},{"r":12,"c":85,"v":2},{"r":12,"c":86,"v":2},{"r":12,"c":87,"v":2},{"r":12,"c":88,"v":2},{"r":12,"c":89,"v":2},
{"r":12,"c":90,"v":2},{"r":12,"c":91,"v":2},{"r":12,"c":92,"v":2},{"r":12,"c":93,"v":2},{"r":12,"c":94,"v":2},{"r":12,"c":95,"v":2},{"r":12,"c":96,"v":2},{"r":12,"c":97,"v":2},{"r":12,"c":98,"v":2},{"r":12,"c":99,"v":2},
{"r":12,"c":100,"v":2},{"r":12,"c":101,"v":2},{"r":12,"c":102,"v":2},{"r":12,"c":103,"v":2},{"r":12,"c":104,"v":1},{"r":12,"c":105,"v":2},{"r":12,"c":106,"v":2},{"r":12,"c":107,"v":2},{"r":12,"c":108,"v":2},{"r":12,"c":109,"v":2},
{"r":12,"c":110,"v":2},{"r":12,"c":111,"v":2},{"r":12,"c":112,"v":2},{"r":12,"c":113,"v":1},{"r":12,"c":114,"v":1},{"r":12,"c":115,"v":1},{"r":12,"c":116,"v":1},{"r":12,"c":117,"v":1},{"r":12,"c":118,"v":1},{"r":12,"c":119,"v":1},
{"r":12,"c":120,"v":1},{"r":12,"c":121,"v":1},{"r":12,"c":122,"v":1},{"r":12,"c":123,"v":1},{"r":12,"c":124,"v":1},{"r":12,"c":125,"v":1},{"r":12,"c":126,"v":1},{"r":12,"c":127,"v":1},{"r":12,"c":128,"v":1},{"r":12,"c":129,"v":1},
{"r":12,"c":130,"v":1},{"r":12,"c":131,"v":1},{"r":12,"c":132,"v":1},
{"r":13,"c":0,"v":2},{"r":13,"c":1,"v":2},{"r":13,"c":2,"v":3},{"r":13,"c":3,"v":2},{"r":13,"c":4,"v":2},{"r":13,"c":5,"v":2},{"r":13,"c":6,"v":2},{"r":13,"c":7,"v":2},{"r":13,"c":8,"v":3},{"r":13,"c":9,"v":2},
{"r":13,"c":10,"v":2},{"r":13,"c":11,"v":2},{"r":13,"c":12,"v":2},{"r":13,"c":13,"v":3},{"r":13,"c":14,"v":2},{"r":13,"c":15,"v":3},{"r":13,"c":16,"v":2},{"r":13,"c":17,"v":2},{"r":13,"c":18,"v":2},{"r":13,"c":19,"v":2},
{"r":13,"c":20,"v":2},{"r":13,"c":21,"v":2},{"r":13,"c":22,"v":10},{"r":13,"c":23,"v":2},{"r":13,"c":24,"v":2},{"r":13,"c":25,"v":2},{"r":13,"c":26,"v":2},{"r":13,"c":27,"v":2},{"r":13,"c":28,"v":2},{"r":13,"c":29,"v":2},
{"r":13,"c":30,"v":2},{"r":13,"c":31,"v":2},{"r":13,"c":32,"v":2},{"r":13,"c":33,"v":2},{"r":13,"c":34,"v":2},{"r":13,"c":35,"v":2},{"r":13,"c":36,"v":3},{"r":13,"c":37,"v":3},{"r":13,"c":38,"v":2},{"r":13,"c":39,"v":2},
{"r":13,"c":40,"v":2},{"r":13,"c":41,"v":2},{"r":13,"c":42,"v":1},{"r":13,"c":43,"v":2},{"r":13,"c":44,"v":2},{"r":13,"c":45,"v":2},{"r":13,"c":46,"v":2},{"r":13,"c":47,"v":2},{"r":13,"c":48,"v":3},{"r":13,"c":49,"v":2},
{"r":13,"c":50,"v":2},{"r":13,"c":51,"v":2},{"r":13,"c":52,"v":2},{"r":13,"c":53,"v":2},{"r":13,"c":54,"v":3},{"r":13,"c":55,"v":2},{"r":13,"c":56,"v":2},{"r":13,"c":57,"v":2},{"r":13,"c":58,"v":2},{"r":13,"c":59,"v":2},
{"r":13,"c":60,"v":2},{"r":13,"c":61,"v":2},{"r":13,"c":62,"v":2},{"r":13,"c":63,"v":2},{"r":13,"c":64,"v":2},{"r":13,"c":65,"v":2},{"r":13,"c":66,"v":2},{"r":13,"c":67,"v":2},{"r":13,"c":68,"v":2},{"r":13,"c":69,"v":2},
{"r":13,"c":70,"v":2},{"r":13,"c":71,"v":2},{"r":13,"c":72,"v":2},{"r":13,"c":73,"v":2},{"r":13,"c":74,"v":2},{"r":13,"c":75,"v":1},{"r":13,"c":76,"v":2},{"r":13,"c":77,"v":2},{"r":13,"c":78,"v":2},{"r":13,"c":79,"v":2},
{"r":13,"c":80,"v":2},{"r":13,"c":81,"v":2},{"r":13,"c":82,"v":2},{"r":13,"c":83,"v":2},{"r":13,"c":84,"v":2},{"r":13,"c":85,"v":2},{"r":13,"c":86,"v":2},{"r":13,"c":87,"v":2},{"r":13,"c":88,"v":2},{"r":13,"c":89,"v":2},
{"r":13,"c":90,"v":2},{"r":13,"c":91,"v":2},{"r":13,"c":92,"v":2},{"r":13,"c":93,"v":1},{"r":13,"c":94,"v":2},{"r":13,"c":95,"v":2},{"r":13,"c":96,"v":2},{"r":13,"c":97,"v":2},{"r":13,"c":98,"v":2},{"r":13,"c":99,"v":2},
{"r":13,"c":100,"v":2},{"r":13,"c":101,"v":2},{"r":13,"c":102,"v":2},{"r":13,"c":103,"v":2},{"r":13,"c":104,"v":2},{"r":13,"c":105,"v":2},{"r":13,"c":106,"v":2},{"r":13,"c":107,"v":2},{"r":13,"c":108,"v":1},{"r":13,"c":109,"v":1},
{"r":13,"c":110,"v":1},{"r":13,"c":111,"v":1},{"r":13,"c":112,"v":1},{"r":13,"c":113,"v":1},{"r":13,"c":114,"v":1},{"r":13,"c":115,"v":1},{"r":13,"c":116,"v":1},{"r":13,"c":117,"v":1},{"r":13,"c":118,"v":1},{"r":13,"c":119,"v":1},
{"r":13,"c":120,"v":1},{"r":13,"c":121,"v":1},{"r":13,"c":122,"v":1},{"r":13,"c":123,"v":1},{"r":13,"c":124,"v":1},{"r":13,"c":125,"v":1},{"r":13,"c":126,"v":1},{"r":13,"c":127,"v":1},{"r":13,"c":128,"v":1},{"r":13,"c":129,"v":1},
{"r":13,"c":130,"v":1},{"r":13,"c":131,"v":1},{"r":13,"c":132,"v":1},
{"r":14,"c":0,"v":1},{"r":14,"c":1,"v":2},{"r":14,"c":2,"v":2},{"r":14,"c":3,"v":2},{"r":14,"c":4,"v":2},{"r":14,"c":5,"v":2},{"r":14,"c":6,"v":2},{"r":14,"c":7,"v":2},{"r":14,"c":8,"v":6},{"r":14,"c":9,"v":2},
{"r":14,"c":10,"v":2},{"r":14,"c":11,"v":2},{"r":14,"c":12,"v":2},{"r":14,"c":13,"v":3},{"r":14,"c":14,"v":2},{"r":14,"c":15,"v":2},{"r":14,"c":16,"v":2},{"r":14,"c":17,"v":2},{"r":14,"c":18,"v":2},{"r":14,"c":19,"v":2},
{"r":14,"c":20,"v":2},{"r":14,"c":21,"v":2},{"r":14,"c":22,"v":3},{"r":14,"c":23,"v":2},{"r":14,"c":24,"v":2},{"r":14,"c":25,"v":2},{"r":14,"c":26,"v":2},{"r":14,"c":27,"v":2},{"r":14,"c":28,"v":2},{"r":14,"c":29,"v":2},
{"r":14,"c":30,"v":2},{"r":14,"c":31,"v":2},{"r":14,"c":32,"v":2},{"r":14,"c":33,"v":2},{"r":14,"c":34,"v":2},{"r":14,"c":35,"v":2},{"r":14,"c":36,"v":5},{"r":14,"c":37,"v":2},{"r":14,"c":38,"v":2},{"r":14,"c":39,"v":2},
{"r":14,"c":40,"v":2},{"r":14,"c":41,"v":2},{"r":14,"c":42,"v":2},{"r":14,"c":43,"v":2},{"r":14,"c":44,"v":2},{"r":14,"c":45,"v":2},{"r":14,"c":46,"v":2},{"r":14,"c":47,"v":2},{"r":14,"c":48,"v":2},{"r":14,"c":49,"v":2},
{"r":14,"c":50,"v":2},{"r":14,"c":51,"v":2},{"r":14,"c":52,"v":3},{"r":14,"c":53,"v":2},{"r":14,"c":54,"v":2},{"r":14,"c":55,"v":10},{"r":14,"c":56,"v":2},{"r":14,"c":57,"v":2},{"r":14,"c":58,"v":2},{"r":14,"c":59,"v":2},
{"r":14,"c":60,"v":2},{"r":14,"c":61,"v":2},{"r":14,"c":62,"v":2},{"r":14,"c":63,"v":2},{"r":14,"c":64,"v":2},{"r":14,"c":65,"v":2},{"r":14,"c":66,"v":2},{"r":14,"c":67,"v":2},{"r":14,"c":68,"v":2},{"r":14,"c":69,"v":2},
{"r":14,"c":70,"v":2},{"r":14,"c":71,"v":2},{"r":14,"c":72,"v":3},{"r":14,"c":73,"v":2},{"r":14,"c":74,"v":2},{"r":14,"c":75,"v":2},{"r":14,"c":76,"v":2},{"r":14,"c":77,"v":2},{"r":14,"c":78,"v":2},{"r":14,"c":79,"v":2},
{"r":14,"c":80,"v":2},{"r":14,"c":81,"v":2},{"r":14,"c":82,"v":2},{"r":14,"c":83,"v":2},{"r":14,"c":84,"v":2},{"r":14,"c":85,"v":2},{"r":14,"c":86,"v":2},{"r":14,"c":87,"v":2},{"r":14,"c":88,"v":2},{"r":14,"c":89,"v":2},
{"r":14,"c":90,"v":2},{"r":14,"c":91,"v":2},{"r":14,"c":92,"v":2},{"r":14,"c":93,"v":2},{"r":14,"c":94,"v":2},{"r":14,"c":95,"v":2},{"r":14,"c":96,"v":2},{"r":14,"c":97,"v":2},{"r":14,"c":98,"v":2},{"r":14,"c":99,"v":2},
{"r":14,"c":100,"v":2},{"r":14,"c":101,"v":2},{"r":14,"c":102,"v":2},{"r":14,"c":103,"v":2},{"r":14,"c":104,"v":2},{"r":14,"c":105,"v":2},{"r":14,"c":106,"v":2},{"r":14,"c":107,"v":2},{"r":14,"c":108,"v":2},{"r":14,"c":109,"v":2},
{"r":14,"c":110,"v":2},{"r":14,"c":111,"v":2},{"r":14,"c":112,"v":2},{"r":14,"c":113,"v":1},{"r":14,"c":114,"v":1},{"r":14,"c":115,"v":1},{"r":14,"c":116,"v":1},{"r":14,"c":117,"v":1},{"r":14,"c":118,"v":1},{"r":14,"c":119,"v":1},
{"r":14,"c":120,"v":1},{"r":14,"c":121,"v":1},{"r":14,"c":122,"v":1},{"r":14,"c":123,"v":1},{"r":14,"c":124,"v":1},{"r":14,"c":125,"v":1},{"r":14,"c":126,"v":1},{"r":14,"c":127,"v":1},{"r":14,"c":128,"v":1},{"r":14,"c":129,"v":1},
{"r":14,"c":130,"v":1},{"r":14,"c":131,"v":1},{"r":14,"c":132,"v":1},
{"r":15,"c":0,"v":1},{"r":15,"c":1,"v":2},{"r":15,"c":2,"v":2},{"r":15,"c":3,"v":2},{"r":15,"c":4,"v":2},{"r":15,"c":5,"v":2},{"r":15,"c":6,"v":2},{"r":15,"c":7,"v":2},{"r":15,"c":8,"v":2},{"r":15,"c":9,"v":2},
{"r":15,"c":10,"v":2},{"r":15,"c":11,"v":2},{"r":15,"c":12,"v":2},{"r":15,"c":13,"v":7},{"r":15,"c":14,"v":2},{"r":15,"c":15,"v":2},{"r":15,"c":16,"v":7},{"r":15,"c":17,"v":7},{"r":15,"c":18,"v":7},{"r":15,"c":19,"v":7},
{"r":15,"c":20,"v":7},{"r":15,"c":21,"v":2},{"r":15,"c":22,"v":6},{"r":15,"c":23,"v":2},{"r":15,"c":24,"v":2},{"r":15,"c":25,"v":2},{"r":15,"c":26,"v":7},{"r":15,"c":27,"v":7},{"r":15,"c":28,"v":7},{"r":15,"c":29,"v":2},
{"r":15,"c":30,"v":6},{"r":15,"c":31,"v":2},{"r":15,"c":32,"v":2},{"r":15,"c":33,"v":2},{"r":15,"c":34,"v":2},{"r":15,"c":35,"v":2},{"r":15,"c":36,"v":2},{"r":15,"c":37,"v":2},{"r":15,"c":38,"v":6},{"r":15,"c":39,"v":2},
{"r":15,"c":40,"v":2},{"r":15,"c":41,"v":6},{"r":15,"c":42,"v":2},{"r":15,"c":43,"v":2},{"r":15,"c":44,"v":2},{"r":15,"c":45,"v":2},{"r":15,"c":46,"v":2},{"r":15,"c":47,"v":5},{"r":15,"c":48,"v":2},{"r":15,"c":49,"v":2},
{"r":15,"c":50,"v":2},{"r":15,"c":51,"v":2},{"r":15,"c":52,"v":2},{"r":15,"c":53,"v":3},{"r":15,"c":54,"v":2},{"r":15,"c":55,"v":2},{"r":15,"c":56,"v":2},{"r":15,"c":57,"v":2},{"r":15,"c":58,"v":2},{"r":15,"c":59,"v":2},
{"r":15,"c":60,"v":2},{"r":15,"c":61,"v":2},{"r":15,"c":62,"v":2},{"r":15,"c":63,"v":2},{"r":15,"c":64,"v":2},{"r":15,"c":65,"v":2},{"r":15,"c":66,"v":2},{"r":15,"c":67,"v":2},{"r":15,"c":68,"v":2},{"r":15,"c":69,"v":2},
{"r":15,"c":70,"v":2},{"r":15,"c":71,"v":2},{"r":15,"c":72,"v":2},{"r":15,"c":73,"v":2},{"r":15,"c":74,"v":2},{"r":15,"c":75,"v":2},{"r":15,"c":76,"v":2},{"r":15,"c":77,"v":2},{"r":15,"c":78,"v":2},{"r":15,"c":79,"v":2},
{"r":15,"c":80,"v":2},{"r":15,"c":81,"v":2},{"r":15,"c":82,"v":2},{"r":15,"c":83,"v":2},{"r":15,"c":84,"v":2},{"r":15,"c":85,"v":2},{"r":15,"c":86,"v":2},{"r":15,"c":87,"v":2},{"r":15,"c":88,"v":2},{"r":15,"c":89,"v":2},
{"r":15,"c":90,"v":2},{"r":15,"c":91,"v":2},{"r":15,"c":92,"v":2},{"r":15,"c":93,"v":2},{"r":15,"c":94,"v":2},{"r":15,"c":95,"v":2},{"r":15,"c":96,"v":2},{"r":15,"c":97,"v":2},{"r":15,"c":98,"v":2},{"r":15,"c":99,"v":2},
{"r":15,"c":100,"v":2},{"r":15,"c":101,"v":2},{"r":15,"c":102,"v":2},{"r":15,"c":103,"v":2},{"r":15,"c":104,"v":2},{"r":15,"c":105,"v":2},{"r":15,"c":106,"v":2},{"r":15,"c":107,"v":2},{"r":15,"c":108,"v":2},{"r":15,"c":109,"v":2},
{"r":15,"c":110,"v":10},{"r":15,"c":111,"v":2},{"r":15,"c":112,"v":2},{"r":15,"c":113,"v":2},{"r":15,"c":114,"v":2},{"r":15,"c":115,"v":2},{"r":15,"c":116,"v":2},{"r":15,"c":117,"v":1},{"r":15,"c":118,"v":1},{"r":15,"c":119,"v":1},
{"r":15,"c":120,"v":1},{"r":15,"c":121,"v":1},{"r":15,"c":122,"v":1},{"r":15,"c":123,"v":1},{"r":15,"c":124,"v":1},{"r":15,"c":125,"v":1},{"r":15,"c":126,"v":1},{"r":15,"c":127,"v":1},{"r":15,"c":128,"v":1},{"r":15,"c":129,"v":1},
{"r":15,"c":130,"v":1},{"r":15,"c":131,"v":1},{"r":15,"c":132,"v":1},
{"r":16,"c":0,"v":2},{"r":16,"c":1,"v":2},{"r":16,"c":2,"v":4},{"r":16,"c":3,"v":2},{"r":16,"c":4,"v":2},{"r":16,"c":5,"v":2},{"r":16,"c":6,"v":2},{"r":16,"c":7,"v":2},{"r":16,"c":8,"v":6},{"r":16,"c":9,"v":2},
{"r":16,"c":10,"v":2},{"r":16,"c":11,"v":2},{"r":16,"c":12,"v":2},{"r":16,"c":13,"v":7},{"r":16,"c":14,"v":2},{"r":16,"c":15,"v":2},{"r":16,"c":16,"v":6},{"r":16,"c":17,"v":2},{"r":16,"c":18,"v":6},{"r":16,"c":19,"v":2},
{"r":16,"c":20,"v":2},{"r":16,"c":21,"v":2},{"r":16,"c":22,"v":5},{"r":16,"c":23,"v":2},{"r":16,"c":24,"v":2},{"r":16,"c":25,"v":2},{"r":16,"c":26,"v":3},{"r":16,"c":27,"v":2},{"r":16,"c":28,"v":4},{"r":16,"c":29,"v":2},
{"r":16,"c":30,"v":2},{"r":16,"c":31,"v":3},{"r":16,"c":32,"v":3},{"r":16,"c":33,"v":2},{"r":16,"c":34,"v":2},{"r":16,"c":35,"v":3},{"r":16,"c":36,"v":6},{"r":16,"c":37,"v":6},{"r":16,"c":38,"v":2},{"r":16,"c":39,"v":2},
{"r":16,"c":40,"v":3},{"r":16,"c":41,"v":3},{"r":16,"c":42,"v":2},{"r":16,"c":43,"v":3},{"r":16,"c":44,"v":2},{"r":16,"c":45,"v":3},{"r":16,"c":46,"v":3},{"r":16,"c":47,"v":4},{"r":16,"c":48,"v":4},{"r":16,"c":49,"v":4},
{"r":16,"c":50,"v":3},{"r":16,"c":51,"v":4},{"r":16,"c":52,"v":4},{"r":16,"c":53,"v":3},{"r":16,"c":54,"v":3},{"r":16,"c":55,"v":3},{"r":16,"c":56,"v":3},{"r":16,"c":57,"v":3},{"r":16,"c":58,"v":2},{"r":16,"c":59,"v":10},
{"r":16,"c":60,"v":3},{"r":16,"c":61,"v":3},{"r":16,"c":62,"v":3},{"r":16,"c":63,"v":3},{"r":16,"c":64,"v":2},{"r":16,"c":65,"v":2},{"r":16,"c":66,"v":2},{"r":16,"c":67,"v":2},{"r":16,"c":68,"v":2},{"r":16,"c":69,"v":3},
{"r":16,"c":70,"v":3},{"r":16,"c":71,"v":3},{"r":16,"c":72,"v":3},{"r":16,"c":73,"v":2},{"r":16,"c":74,"v":2},{"r":16,"c":75,"v":2},{"r":16,"c":76,"v":2},{"r":16,"c":77,"v":2},{"r":16,"c":78,"v":2},{"r":16,"c":79,"v":2},
{"r":16,"c":80,"v":2},{"r":16,"c":81,"v":2},{"r":16,"c":82,"v":2},{"r":16,"c":83,"v":2},{"r":16,"c":84,"v":2},{"r":16,"c":85,"v":2},{"r":16,"c":86,"v":2},{"r":16,"c":87,"v":2},{"r":16,"c":88,"v":2},{"r":16,"c":89,"v":2},
{"r":16,"c":90,"v":2},{"r":16,"c":91,"v":2},{"r":16,"c":92,"v":2},{"r":16,"c":93,"v":2},{"r":16,"c":94,"v":2},{"r":16,"c":95,"v":2},{"r":16,"c":96,"v":2},{"r":16,"c":97,"v":2},{"r":16,"c":98,"v":2},{"r":16,"c":99,"v":2},
{"r":16,"c":100,"v":2},{"r":16,"c":101,"v":2},{"r":16,"c":102,"v":2},{"r":16,"c":103,"v":2},{"r":16,"c":104,"v":2},{"r":16,"c":105,"v":2},{"r":16,"c":106,"v":2},{"r":16,"c":107,"v":2},{"r":16,"c":108,"v":2},{"r":16,"c":109,"v":2},
{"r":16,"c":110,"v":2},{"r":16,"c":111,"v":2},{"r":16,"c":112,"v":2},{"r":16,"c":113,"v":2},{"r":16,"c":114,"v":2},{"r":16,"c":115,"v":2},{"r":16,"c":116,"v":1},{"r":16,"c":117,"v":1},{"r":16,"c":118,"v":1},{"r":16,"c":119,"v":1},
{"r":16,"c":120,"v":1},{"r":16,"c":121,"v":1},{"r":16,"c":122,"v":1},{"r":16,"c":123,"v":1},{"r":16,"c":124,"v":1},{"r":16,"c":125,"v":1},{"r":16,"c":126,"v":1},{"r":16,"c":127,"v":1},{"r":16,"c":128,"v":1},{"r":16,"c":129,"v":1},
{"r":16,"c":130,"v":1},{"r":16,"c":131,"v":1},{"r":16,"c":132,"v":1},
{"r":17,"c":0,"v":7},{"r":17,"c":1,"v":7},{"r":17,"c":2,"v":7},{"r":17,"c":3,"v":7},{"r":17,"c":4,"v":2},{"r":17,"c":5,"v":2},{"r":17,"c":6,"v":2},{"r":17,"c":7,"v":7},{"r":17,"c":8,"v":7},{"r":17,"c":9,"v":2},
{"r":17,"c":10,"v":2},{"r":17,"c":11,"v":7},{"r":17,"c":12,"v":7},{"r":17,"c":13,"v":7},{"r":17,"c":14,"v":7},{"r":17,"c":15,"v":2},{"r":17,"c":16,"v":2},{"r":17,"c":17,"v":2},{"r":17,"c":18,"v":2},{"r":17,"c":19,"v":2},
{"r":17,"c":20,"v":2},{"r":17,"c":21,"v":6},{"r":17,"c":22,"v":2},{"r":17,"c":23,"v":2},{"r":17,"c":24,"v":2},{"r":17,"c":25,"v":2},{"r":17,"c":26,"v":2},{"r":17,"c":27,"v":2},{"r":17,"c":28,"v":2},{"r":17,"c":29,"v":2},
{"r":17,"c":30,"v":2},{"r":17,"c":31,"v":5},{"r":17,"c":32,"v":2},{"r":17,"c":33,"v":2},{"r":17,"c":34,"v":2},{"r":17,"c":35,"v":2},{"r":17,"c":36,"v":2},{"r":17,"c":37,"v":2},{"r":17,"c":38,"v":2},{"r":17,"c":39,"v":2},
{"r":17,"c":40,"v":2},{"r":17,"c":41,"v":2},{"r":17,"c":42,"v":2},{"r":17,"c":43,"v":2},{"r":17,"c":44,"v":2},{"r":17,"c":45,"v":2},{"r":17,"c":46,"v":2},{"r":17,"c":47,"v":2},{"r":17,"c":48,"v":2},{"r":17,"c":49,"v":2},
{"r":17,"c":50,"v":2},{"r":17,"c":51,"v":2},{"r":17,"c":52,"v":2},{"r":17,"c":53,"v":2},{"r":17,"c":54,"v":10},{"r":17,"c":55,"v":2},{"r":17,"c":56,"v":2},{"r":17,"c":57,"v":2},{"r":17,"c":58,"v":2},{"r":17,"c":59,"v":2},
{"r":17,"c":60,"v":2},{"r":17,"c":61,"v":2},{"r":17,"c":62,"v":2},{"r":17,"c":63,"v":2},{"r":17,"c":64,"v":2},{"r":17,"c":65,"v":2},{"r":17,"c":66,"v":2},{"r":17,"c":67,"v":2},{"r":17,"c":68,"v":2},{"r":17,"c":69,"v":2},
{"r":17,"c":70,"v":2},{"r":17,"c":71,"v":2},{"r":17,"c":72,"v":2},{"r":17,"c":73,"v":2},{"r":17,"c":74,"v":2},{"r":17,"c":75,"v":2},{"r":17,"c":76,"v":2},{"r":17,"c":77,"v":2},{"r":17,"c":78,"v":2},{"r":17,"c":79,"v":2},
{"r":17,"c":80,"v":2},{"r":17,"c":81,"v":2},{"r":17,"c":82,"v":2},{"r":17,"c":83,"v":2},{"r":17,"c":84,"v":2},{"r":17,"c":85,"v":2},{"r":17,"c":86,"v":2},{"r":17,"c":87,"v":2},{"r":17,"c":88,"v":2},{"r":17,"c":89,"v":2},
{"r":17,"c":90,"v":2},{"r":17,"c":91,"v":2},{"r":17,"c":92,"v":2},{"r":17,"c":93,"v":2},{"r":17,"c":94,"v":2},{"r":17,"c":95,"v":2},{"r":17,"c":96,"v":2},{"r":17,"c":97,"v":2},{"r":17,"c":98,"v":2},{"r":17,"c":99,"v":2},
{"r":17,"c":100,"v":2},{"r":17,"c":101,"v":2},{"r":17,"c":102,"v":2},{"r":17,"c":103,"v":2},{"r":17,"c":104,"v":2},{"r":17,"c":105,"v":2},{"r":17,"c":106,"v":2},{"r":17,"c":107,"v":2},{"r":17,"c":108,"v":2},{"r":17,"c":109,"v":2},
{"r":17,"c":110,"v":2},{"r":17,"c":111,"v":2},{"r":17,"c":112,"v":2},{"r":17,"c":113,"v":1},{"r":17,"c":114,"v":1},{"r":17,"c":115,"v":1},{"r":17,"c":116,"v":1},{"r":17,"c":117,"v":1},{"r":17,"c":118,"v":1},{"r":17,"c":119,"v":1},
{"r":17,"c":120,"v":1},{"r":17,"c":121,"v":1},{"r":17,"c":122,"v":1},{"r":17,"c":123,"v":1},{"r":17,"c":124,"v":1},{"r":17,"c":125,"v":1},{"r":17,"c":126,"v":1},{"r":17,"c":127,"v":1},{"r":17,"c":128,"v":1},{"r":17,"c":129,"v":1},
{"r":17,"c":130,"v":1},{"r":17,"c":131,"v":1},{"r":17,"c":132,"v":1},
{"r":18,"c":0,"v":2},{"r":18,"c":1,"v":2},{"r":18,"c":2,"v":4},{"r":18,"c":3,"v":2},{"r":18,"c":4,"v":2},{"r":18,"c":5,"v":2},{"r":18,"c":6,"v":2},{"r":18,"c":7,"v":2},{"r":18,"c":8,"v":3},{"r":18,"c":9,"v":2},
{"r":18,"c":10,"v":2},{"r":18,"c":11,"v":2},{"r":18,"c":12,"v":2},{"r":18,"c":13,"v":4},{"r":18,"c":14,"v":2},{"r":18,"c":15,"v":3},{"r":18,"c":16,"v":2},{"r":18,"c":17,"v":2},{"r":18,"c":18,"v":2},{"r":18,"c":19,"v":2},
{"r":18,"c":20,"v":2},{"r":18,"c":21,"v":10},{"r":18,"c":22,"v":2},{"r":18,"c":23,"v":2},{"r":18,"c":24,"v":2},{"r":18,"c":25,"v":2},{"r":18,"c":26,"v":2},{"r":18,"c":27,"v":2},{"r":18,"c":28,"v":2},{"r":18,"c":29,"v":2},
{"r":18,"c":30,"v":2},{"r":18,"c":31,"v":2},{"r":18,"c":32,"v":2},{"r":18,"c":33,"v":2},{"r":18,"c":34,"v":2},{"r":18,"c":35,"v":2},{"r":18,"c":36,"v":3},{"r":18,"c":37,"v":2},{"r":18,"c":38,"v":2},{"r":18,"c":39,"v":2},
{"r":18,"c":40,"v":2},{"r":18,"c":41,"v":2},{"r":18,"c":42,"v":2},{"r":18,"c":43,"v":2},{"r":18,"c":44,"v":2},{"r":18,"c":45,"v":2},{"r":18,"c":46,"v":2},{"r":18,"c":47,"v":2},{"r":18,"c":48,"v":3},{"r":18,"c":49,"v":2},
{"r":18,"c":50,"v":2},{"r":18,"c":51,"v":2},{"r":18,"c":52,"v":2},{"r":18,"c":53,"v":2},{"r":18,"c":54,"v":2},{"r":18,"c":55,"v":2},{"r":18,"c":56,"v":2},{"r":18,"c":57,"v":2},{"r":18,"c":58,"v":2},{"r":18,"c":59,"v":2},
{"r":18,"c":60,"v":2},{"r":18,"c":61,"v":2},{"r":18,"c":62,"v":2},{"r":18,"c":63,"v":2},{"r":18,"c":64,"v":2},{"r":18,"c":65,"v":2},{"r":18,"c":66,"v":2},{"r":18,"c":67,"v":2},{"r":18,"c":68,"v":2},{"r":18,"c":69,"v":2},
{"r":18,"c":70,"v":2},{"r":18,"c":71,"v":2},{"r":18,"c":72,"v":2},{"r":18,"c":73,"v":2},{"r":18,"c":74,"v":2},{"r":18,"c":75,"v":2},{"r":18,"c":76,"v":2},{"r":18,"c":77,"v":2},{"r":18,"c":78,"v":2},{"r":18,"c":79,"v":2},
{"r":18,"c":80,"v":2},{"r":18,"c":81,"v":2},{"r":18,"c":82,"v":2},{"r":18,"c":83,"v":2},{"r":18,"c":84,"v":2},{"r":18,"c":85,"v":2},{"r":18,"c":86,"v":2},{"r":18,"c":87,"v":2},{"r":18,"c":88,"v":2},{"r":18,"c":89,"v":2},
{"r":18,"c":90,"v":2},{"r":18,"c":91,"v":2},{"r":18,"c":92,"v":2},{"r":18,"c":93,"v":2},{"r":18,"c":94,"v":2},{"r":18,"c":95,"v":2},{"r":18,"c":96,"v":2},{"r":18,"c":97,"v":2},{"r":18,"c":98,"v":2},{"r":18,"c":99,"v":2},
{"r":18,"c":100,"v":2},{"r":18,"c":101,"v":2},{"r":18,"c":102,"v":2},{"r":18,"c":103,"v":2},{"r":18,"c":104,"v":2},{"r":18,"c":105,"v":2},{"r":18,"c":106,"v":2},{"r":18,"c":107,"v":2},{"r":18,"c":108,"v":2},{"r":18,"c":109,"v":2},
{"r":18,"c":110,"v":2},{"r":18,"c":111,"v":2},{"r":18,"c":112,"v":2},{"r":18,"c":113,"v":1},{"r":18,"c":114,"v":1},{"r":18,"c":115,"v":1},{"r":18,"c":116,"v":1},{"r":18,"c":117,"v":1},{"r":18,"c":118,"v":1},{"r":18,"c":119,"v":1},
{"r":18,"c":120,"v":1},{"r":18,"c":121,"v":1},{"r":18,"c":122,"v":1},{"r":18,"c":123,"v":1},{"r":18,"c":124,"v":1},{"r":18,"c":125,"v":1},{"r":18,"c":126,"v":1},{"r":18,"c":127,"v":1},{"r":18,"c":128,"v":1},{"r":18,"c":129,"v":1},
{"r":18,"c":130,"v":1},{"r":18,"c":131,"v":1},{"r":18,"c":132,"v":1},
{"r":19,"c":0,"v":1},{"r":19,"c":1,"v":2},{"r":19,"c":2,"v":3},{"r":19,"c":3,"v":2},{"r":19,"c":4,"v":2},{"r":19,"c":5,"v":2},{"r":19,"c":6,"v":2},{"r":19,"c":7,"v":2},{"r":19,"c":8,"v":2},{"r":19,"c":9,"v":2},
{"r":19,"c":10,"v":2},{"r":19,"c":11,"v":2},{"r":19,"c":12,"v":2},{"r":19,"c":13,"v":3},{"r":19,"c":14,"v":2},{"r":19,"c":15,"v":2},{"r":19,"c":16,"v":2},{"r":19,"c":17,"v":2},{"r":19,"c":18,"v":2},{"r":19,"c":19,"v":2},
{"r":19,"c":20,"v":2},{"r":19,"c":21,"v":2},{"r":19,"c":22,"v":5},{"r":19,"c":23,"v":2},{"r":19,"c":24,"v":2},{"r":19,"c":25,"v":2},{"r":19,"c":26,"v":2},{"r":19,"c":27,"v":2},{"r":19,"c":28,"v":2},{"r":19,"c":29,"v":2},
{"r":19,"c":30,"v":2},{"r":19,"c":31,"v":10},{"r":19,"c":32,"v":2},{"r":19,"c":33,"v":3},{"r":19,"c":34,"v":2},{"r":19,"c":35,"v":2},{"r":19,"c":36,"v":2},{"r":19,"c":37,"v":2},{"r":19,"c":38,"v":2},{"r":19,"c":39,"v":2},
{"r":19,"c":40,"v":2},{"r":19,"c":41,"v":2},{"r":19,"c":42,"v":2},{"r":19,"c":43,"v":2},{"r":19,"c":44,"v":2},{"r":19,"c":45,"v":2},{"r":19,"c":46,"v":2},{"r":19,"c":47,"v":2},{"r":19,"c":48,"v":2},{"r":19,"c":49,"v":2},
{"r":19,"c":50,"v":2},{"r":19,"c":51,"v":2},{"r":19,"c":52,"v":2},{"r":19,"c":53,"v":2},{"r":19,"c":54,"v":2},{"r":19,"c":55,"v":2},{"r":19,"c":56,"v":2},{"r":19,"c":57,"v":2},{"r":19,"c":58,"v":2},{"r":19,"c":59,"v":2},
{"r":19,"c":60,"v":2},{"r":19,"c":61,"v":2},{"r":19,"c":62,"v":2},{"r":19,"c":63,"v":2},{"r":19,"c":64,"v":2},{"r":19,"c":65,"v":2},{"r":19,"c":66,"v":2},{"r":19,"c":67,"v":2},{"r":19,"c":68,"v":2},{"r":19,"c":69,"v":2},
{"r":19,"c":70,"v":2},{"r":19,"c":71,"v":2},{"r":19,"c":72,"v":2},{"r":19,"c":73,"v":2},{"r":19,"c":74,"v":2},{"r":19,"c":75,"v":2},{"r":19,"c":76,"v":2},{"r":19,"c":77,"v":2},{"r":19,"c":78,"v":2},{"r":19,"c":79,"v":2},
{"r":19,"c":80,"v":2},{"r":19,"c":81,"v":2},{"r":19,"c":82,"v":2},{"r":19,"c":83,"v":2},{"r":19,"c":84,"v":2},{"r":19,"c":85,"v":2},{"r":19,"c":86,"v":2},{"r":19,"c":87,"v":2},{"r":19,"c":88,"v":2},{"r":19,"c":89,"v":2},
{"r":19,"c":90,"v":2},{"r":19,"c":91,"v":2},{"r":19,"c":92,"v":2},{"r":19,"c":93,"v":2},{"r":19,"c":94,"v":2},{"r":19,"c":95,"v":2},{"r":19,"c":96,"v":2},{"r":19,"c":97,"v":2},{"r":19,"c":98,"v":2},{"r":19,"c":99,"v":2},
{"r":19,"c":100,"v":2},{"r":19,"c":101,"v":2},{"r":19,"c":102,"v":2},{"r":19,"c":103,"v":2},{"r":19,"c":104,"v":2},{"r":19,"c":105,"v":2},{"r":19,"c":106,"v":2},{"r":19,"c":107,"v":2},{"r":19,"c":108,"v":2},{"r":19,"c":109,"v":2},
{"r":19,"c":110,"v":2},{"r":19,"c":111,"v":2},{"r":19,"c":112,"v":2},{"r":19,"c":113,"v":1},{"r":19,"c":114,"v":1},{"r":19,"c":115,"v":1},{"r":19,"c":116,"v":1},{"r":19,"c":117,"v":1},{"r":19,"c":118,"v":1},{"r":19,"c":119,"v":1},
{"r":19,"c":120,"v":1},{"r":19,"c":121,"v":1},{"r":19,"c":122,"v":1},{"r":19,"c":123,"v":1},{"r":19,"c":124,"v":1},{"r":19,"c":125,"v":1},{"r":19,"c":126,"v":1},{"r":19,"c":127,"v":1},{"r":19,"c":128,"v":1},{"r":19,"c":129,"v":1},
{"r":19,"c":130,"v":1},{"r":19,"c":131,"v":1},{"r":19,"c":132,"v":1},
{"r":20,"c":0,"v":1},{"r":20,"c":1,"v":1},{"r":20,"c":2,"v":1},{"r":20,"c":3,"v":1},{"r":20,"c":4,"v":7},{"r":20,"c":5,"v":1},{"r":20,"c":6,"v":7},{"r":20,"c":7,"v":1},{"r":20,"c":8,"v":1},{"r":20,"c":9,"v":1},
{"r":20,"c":10,"v":1},{"r":20,"c":11,"v":1},{"r":20,"c":12,"v":7},{"r":20,"c":13,"v":7},{"r":20,"c":14,"v":7},{"r":20,"c":15,"v":1},{"r":20,"c":16,"v":1},{"r":20,"c":17,"v":1},{"r":20,"c":18,"v":1},{"r":20,"c":19,"v":1},
{"r":20,"c":20,"v":1},{"r":20,"c":21,"v":1},{"r":20,"c":22,"v":1},{"r":20,"c":23,"v":7},{"r":20,"c":24,"v":7},{"r":20,"c":25,"v":7},{"r":20,"c":26,"v":1},{"r":20,"c":27,"v":7},{"r":20,"c":28,"v":1},{"r":20,"c":29,"v":7},
{"r":20,"c":30,"v":1},{"r":20,"c":31,"v":7},{"r":20,"c":32,"v":7},{"r":20,"c":33,"v":7},{"r":20,"c":34,"v":7},{"r":20,"c":35,"v":7},{"r":20,"c":36,"v":1},{"r":20,"c":37,"v":1},{"r":20,"c":38,"v":1},{"r":20,"c":39,"v":1},
{"r":20,"c":40,"v":1},{"r":20,"c":41,"v":1},{"r":20,"c":42,"v":6},{"r":20,"c":43,"v":6},{"r":20,"c":44,"v":1},{"r":20,"c":45,"v":1},{"r":20,"c":46,"v":1},{"r":20,"c":47,"v":1},{"r":20,"c":48,"v":1},{"r":20,"c":49,"v":1},
{"r":20,"c":50,"v":1},{"r":20,"c":51,"v":1},{"r":20,"c":52,"v":2},{"r":20,"c":53,"v":1},{"r":20,"c":54,"v":1},{"r":20,"c":55,"v":2},{"r":20,"c":56,"v":1},{"r":20,"c":57,"v":1},{"r":20,"c":58,"v":1},{"r":20,"c":59,"v":1},
{"r":20,"c":60,"v":1},{"r":20,"c":61,"v":1},{"r":20,"c":62,"v":1},{"r":20,"c":63,"v":1},{"r":20,"c":64,"v":1},{"r":20,"c":65,"v":1},{"r":20,"c":66,"v":1},{"r":20,"c":67,"v":1},{"r":20,"c":68,"v":1},{"r":20,"c":69,"v":1},
{"r":20,"c":70,"v":1},{"r":20,"c":71,"v":1},{"r":20,"c":72,"v":1},{"r":20,"c":73,"v":1},{"r":20,"c":74,"v":1},{"r":20,"c":75,"v":1},{"r":20,"c":76,"v":1},{"r":20,"c":77,"v":1},{"r":20,"c":78,"v":1},{"r":20,"c":79,"v":1},
{"r":20,"c":80,"v":1},{"r":20,"c":81,"v":1},{"r":20,"c":82,"v":1},{"r":20,"c":83,"v":1},{"r":20,"c":84,"v":1},{"r":20,"c":85,"v":1},{"r":20,"c":86,"v":1},{"r":20,"c":87,"v":1},{"r":20,"c":88,"v":1},{"r":20,"c":89,"v":1},
{"r":20,"c":90,"v":1},{"r":20,"c":91,"v":1},{"r":20,"c":92,"v":1},{"r":20,"c":93,"v":1},{"r":20,"c":94,"v":1},{"r":20,"c":95,"v":1},{"r":20,"c":96,"v":1},{"r":20,"c":97,"v":1},{"r":20,"c":98,"v":1},{"r":20,"c":99,"v":1},
{"r":20,"c":100,"v":1},{"r":20,"c":101,"v":10},{"r":20,"c":102,"v":1},{"r":20,"c":103,"v":1},{"r":20,"c":104,"v":1},{"r":20,"c":105,"v":1},{"r":20,"c":106,"v":1},{"r":20,"c":107,"v":1},{"r":20,"c":108,"v":1},{"r":20,"c":109,"v":1},
{"r":20,"c":110,"v":1},{"r":20,"c":111,"v":1},{"r":20,"c":112,"v":1},{"r":20,"c":113,"v":1},{"r":20,"c":114,"v":1},{"r":20,"c":115,"v":1},{"r":20,"c":116,"v":1},{"r":20,"c":117,"v":1},{"r":20,"c":118,"v":1},{"r":20,"c":119,"v":1},
{"r":20,"c":120,"v":1},{"r":20,"c":121,"v":1},{"r":20,"c":122,"v":1},{"r":20,"c":123,"v":1},{"r":20,"c":124,"v":1},{"r":20,"c":125,"v":1},{"r":20,"c":126,"v":1},{"r":20,"c":127,"v":1},{"r":20,"c":128,"v":1},{"r":20,"c":129,"v":1},
{"r":20,"c":130,"v":1},{"r":20,"c":131,"v":1},{"r":20,"c":132,"v":1},
{"r":21,"c":0,"v":2},{"r":21,"c":1,"v":2},{"r":21,"c":2,"v":4},{"r":21,"c":3,"v":2},{"r":21,"c":4,"v":3},{"r":21,"c":5,"v":3},{"r":21,"c":6,"v":2},{"r":21,"c":7,"v":2},{"r":21,"c":8,"v":3},{"r":21,"c":9,"v":2},
{"r":21,"c":10,"v":2},{"r":21,"c":11,"v":2},{"r":21,"c":12,"v":2},{"r":21,"c":13,"v":4},{"r":21,"c":14,"v":2},{"r":21,"c":15,"v":3},{"r":21,"c":16,"v":2},{"r":21,"c":17,"v":2},{"r":21,"c":18,"v":2},{"r":21,"c":19,"v":2},
{"r":21,"c":20,"v":2},{"r":21,"c":21,"v":2},{"r":21,"c":22,"v":4},{"r":21,"c":23,"v":2},{"r":21,"c":24,"v":2},{"r":21,"c":25,"v":2},{"r":21,"c":26,"v":3},{"r":21,"c":27,"v":2},{"r":21,"c":28,"v":2},{"r":21,"c":29,"v":2},
{"r":21,"c":30,"v":2},{"r":21,"c":31,"v":2},{"r":21,"c":32,"v":3},{"r":21,"c":33,"v":2},{"r":21,"c":34,"v":10},{"r":21,"c":35,"v":2},{"r":21,"c":36,"v":3},{"r":21,"c":37,"v":2},{"r":21,"c":38,"v":2},{"r":21,"c":39,"v":2},
{"r":21,"c":40,"v":2},{"r":21,"c":41,"v":2},{"r":21,"c":42,"v":2},{"r":21,"c":43,"v":2},{"r":21,"c":44,"v":2},{"r":21,"c":45,"v":2},{"r":21,"c":46,"v":2},{"r":21,"c":47,"v":2},{"r":21,"c":48,"v":2},{"r":21,"c":49,"v":2},
{"r":21,"c":50,"v":2},{"r":21,"c":51,"v":2},{"r":21,"c":52,"v":2},{"r":21,"c":53,"v":2},{"r":21,"c":54,"v":2},{"r":21,"c":55,"v":2},{"r":21,"c":56,"v":2},{"r":21,"c":57,"v":2},{"r":21,"c":58,"v":2},{"r":21,"c":59,"v":2},
{"r":21,"c":60,"v":2},{"r":21,"c":61,"v":2},{"r":21,"c":62,"v":2},{"r":21,"c":63,"v":2},{"r":21,"c":64,"v":2},{"r":21,"c":65,"v":2},{"r":21,"c":66,"v":2},{"r":21,"c":67,"v":2},{"r":21,"c":68,"v":2},{"r":21,"c":69,"v":2},
{"r":21,"c":70,"v":2},{"r":21,"c":71,"v":2},{"r":21,"c":72,"v":2},{"r":21,"c":73,"v":2},{"r":21,"c":74,"v":2},{"r":21,"c":75,"v":2},{"r":21,"c":76,"v":2},{"r":21,"c":77,"v":2},{"r":21,"c":78,"v":2},{"r":21,"c":79,"v":2},
{"r":21,"c":80,"v":2},{"r":21,"c":81,"v":2},{"r":21,"c":82,"v":2},{"r":21,"c":83,"v":2},{"r":21,"c":84,"v":2},{"r":21,"c":85,"v":2},{"r":21,"c":86,"v":2},{"r":21,"c":87,"v":2},{"r":21,"c":88,"v":2},{"r":21,"c":89,"v":2},
{"r":21,"c":90,"v":2},{"r":21,"c":91,"v":2},{"r":21,"c":92,"v":2},{"r":21,"c":93,"v":2},{"r":21,"c":94,"v":2},{"r":21,"c":95,"v":2},{"r":21,"c":96,"v":2},{"r":21,"c":97,"v":2},{"r":21,"c":98,"v":2},{"r":21,"c":99,"v":2},
{"r":21,"c":100,"v":2},{"r":21,"c":101,"v":2},{"r":21,"c":102,"v":2},{"r":21,"c":103,"v":2},{"r":21,"c":104,"v":2},{"r":21,"c":105,"v":2},{"r":21,"c":106,"v":2},{"r":21,"c":107,"v":2},{"r":21,"c":108,"v":2},{"r":21,"c":109,"v":2},
{"r":21,"c":110,"v":2},{"r":21,"c":111,"v":2},{"r":21,"c":112,"v":2},{"r":21,"c":113,"v":1},{"r":21,"c":114,"v":1},{"r":21,"c":115,"v":1},{"r":21,"c":116,"v":1},{"r":21,"c":117,"v":1},{"r":21,"c":118,"v":1},{"r":21,"c":119,"v":1},
{"r":21,"c":120,"v":1},{"r":21,"c":121,"v":1},{"r":21,"c":122,"v":1},{"r":21,"c":123,"v":1},{"r":21,"c":124,"v":1},{"r":21,"c":125,"v":1},{"r":21,"c":126,"v":1},{"r":21,"c":127,"v":1},{"r":21,"c":128,"v":1},{"r":21,"c":129,"v":1},
{"r":21,"c":130,"v":1},{"r":21,"c":131,"v":1},{"r":21,"c":132,"v":1},
{"r":22,"c":0,"v":2},{"r":22,"c":1,"v":2},{"r":22,"c":2,"v":3},{"r":22,"c":3,"v":2},{"r":22,"c":4,"v":2},{"r":22,"c":5,"v":2},{"r":22,"c":6,"v":2},{"r":22,"c":7,"v":2},{"r":22,"c":8,"v":3},{"r":22,"c":9,"v":2},
{"r":22,"c":10,"v":2},{"r":22,"c":11,"v":2},{"r":22,"c":12,"v":2},{"r":22,"c":13,"v":2},{"r":22,"c":14,"v":2},{"r":22,"c":15,"v":2},{"r":22,"c":16,"v":2},{"r":22,"c":17,"v":2},{"r":22,"c":18,"v":2},{"r":22,"c":19,"v":2},
{"r":22,"c":20,"v":2},{"r":22,"c":21,"v":2},{"r":22,"c":22,"v":2},{"r":22,"c":23,"v":2},{"r":22,"c":24,"v":2},{"r":22,"c":25,"v":2},{"r":22,"c":26,"v":2},{"r":22,"c":27,"v":2},{"r":22,"c":28,"v":2},{"r":22,"c":29,"v":2},
{"r":22,"c":30,"v":2},{"r":22,"c":31,"v":2},{"r":22,"c":32,"v":2},{"r":22,"c":33,"v":2},{"r":22,"c":34,"v":2},{"r":22,"c":35,"v":2},{"r":22,"c":36,"v":2},{"r":22,"c":37,"v":2},{"r":22,"c":38,"v":2},{"r":22,"c":39,"v":2},
{"r":22,"c":40,"v":2},{"r":22,"c":41,"v":2},{"r":22,"c":42,"v":2},{"r":22,"c":43,"v":2},{"r":22,"c":44,"v":2},{"r":22,"c":45,"v":2},{"r":22,"c":46,"v":2},{"r":22,"c":47,"v":2},{"r":22,"c":48,"v":2},{"r":22,"c":49,"v":2},
{"r":22,"c":50,"v":2},{"r":22,"c":51,"v":2},{"r":22,"c":52,"v":2},{"r":22,"c":53,"v":2},{"r":22,"c":54,"v":2},{"r":22,"c":55,"v":4},{"r":22,"c":56,"v":4},{"r":22,"c":57,"v":4},{"r":22,"c":58,"v":2},{"r":22,"c":59,"v":2},
{"r":22,"c":60,"v":2},{"r":22,"c":61,"v":2},{"r":22,"c":62,"v":2},{"r":22,"c":63,"v":2},{"r":22,"c":64,"v":2},{"r":22,"c":65,"v":2},{"r":22,"c":66,"v":2},{"r":22,"c":67,"v":10},{"r":22,"c":68,"v":2},{"r":22,"c":69,"v":2},
{"r":22,"c":70,"v":2},{"r":22,"c":71,"v":2},{"r":22,"c":72,"v":2},{"r":22,"c":73,"v":2},{"r":22,"c":74,"v":2},{"r":22,"c":75,"v":2},{"r":22,"c":76,"v":2},{"r":22,"c":77,"v":2},{"r":22,"c":78,"v":2},{"r":22,"c":79,"v":2},
{"r":22,"c":80,"v":2},{"r":22,"c":81,"v":2},{"r":22,"c":82,"v":2},{"r":22,"c":83,"v":2},{"r":22,"c":84,"v":2},{"r":22,"c":85,"v":2},{"r":22,"c":86,"v":2},{"r":22,"c":87,"v":2},{"r":22,"c":88,"v":2},{"r":22,"c":89,"v":2},
{"r":22,"c":90,"v":2},{"r":22,"c":91,"v":2},{"r":22,"c":92,"v":2},{"r":22,"c":93,"v":2},{"r":22,"c":94,"v":2},{"r":22,"c":95,"v":2},{"r":22,"c":96,"v":2},{"r":22,"c":97,"v":2},{"r":22,"c":98,"v":2},{"r":22,"c":99,"v":2},
{"r":22,"c":100,"v":2},{"r":22,"c":101,"v":2},{"r":22,"c":102,"v":2},{"r":22,"c":103,"v":2},{"r":22,"c":104,"v":2},{"r":22,"c":105,"v":2},{"r":22,"c":106,"v":2},{"r":22,"c":107,"v":2},{"r":22,"c":108,"v":2},{"r":22,"c":109,"v":2},
{"r":22,"c":110,"v":2},{"r":22,"c":111,"v":2},{"r":22,"c":112,"v":2},{"r":22,"c":113,"v":1},{"r":22,"c":114,"v":1},{"r":22,"c":115,"v":1},{"r":22,"c":116,"v":1},{"r":22,"c":117,"v":1},{"r":22,"c":118,"v":1},{"r":22,"c":119,"v":1},
{"r":22,"c":120,"v":1},{"r":22,"c":121,"v":1},{"r":22,"c":122,"v":1},{"r":22,"c":123,"v":1},{"r":22,"c":124,"v":1},{"r":22,"c":125,"v":1},{"r":22,"c":126,"v":1},{"r":22,"c":127,"v":1},{"r":22,"c":128,"v":1},{"r":22,"c":129,"v":1},
{"r":22,"c":130,"v":1},{"r":22,"c":131,"v":1},{"r":22,"c":132,"v":1}
]},
"hconcat":[
{"width":113,"height":556,"data":{"name":"boxes"},
 "mark":{"type":"rect","strokeWidth":1},
 "encoding":{
  "x":{"field":"k","type":"ordinal","scale":{"domain":[1,2,3,4],"paddingInner":0.34,"paddingOuter":0.37},"axis":null},
  "y":{"field":"r","type":"ordinal","scale":{"domain":[0,1,2,3,4,5,6,7,8,9,10,11,12,13,14,15,16,17,18,19,20,21,22],"paddingInner":0.287,"paddingOuter":0.31},"axis":null},
  "fill":{"field":"t","type":"nominal","scale":{"domain":["e","p","o"],"range":["#ffffff","#c6a5d5","#ff6a00"]},"legend":null},
  "stroke":{"field":"t","type":"nominal","scale":{"domain":["e","p","o"],"range":["#6e6e6e","#c6a5d5","#ff6a00"]},"legend":null}
 }},
{"width":1205,"height":556,
 "layer":[
  {"data":{"name":"cells"},
   "mark":{"type":"rect","stroke":"#c4c4c4","strokeWidth":1},
   "encoding":{
    "x":{"field":"c","type":"ordinal","scale":{"paddingInner":0.12,"paddingOuter":0},"axis":null},
    "y":{"field":"r","type":"ordinal","scale":{"domain":[0,1,2,3,4,5,6,7,8,9,10,11,12,13,14,15,16,17,18,19,20,21,22],"paddingInner":0.3076,"paddingOuter":0.317},
     "axis":{"orient":"left","offset":183,"domain":true,"domainColor":"#111111","domainWidth":1.3,"ticks":false,"tickSize":0,"grid":false,"labelAlign":"left","labelBaseline":"middle","labelPadding":-12,"labelFontSize":13,"labelColor":"#111111","labelFont":"Liberation Sans","title":null,
      "labelExpr":"['MESH:D001172','MESH:D001528','MESH:D002446','MESH:D002971','MESH:D003093','MESH:D003731','MESH:D003922','MESH:D004938','MESH:D006111','MESH:D007079','MESH:D008113','MESH:D008180','MESH:D009080','MESH:D009103','MESH:D010610','MESH:D012004','MESH:D012468','MESH:D013274','MESH:D013953','MESH:D014820','MESH:D015209','MESH:D055113','MESH:D065631'][datum.value]"}},
    "color":{"field":"v","type":"quantitative","scale":{"type":"linear","domain":[0,2,4,6,8,10],"range":["#f7fcf5","#dcf1d6","#9dd798","#27a050","#0a662c","#00200a"],"interpolate":"rgb"},
     "legend":{"orient":"none","legendX":930,"legendY":-41,"direction":"horizontal","title":null,"gradientLength":272,"gradientThickness":7,"values":[0,2,4,6,8,10],"labelExpr":"format(datum.value/10,'.1f')","labelFontSize":12,"labelColor":"#222222","gradientStrokeColor":"#222222","gradientStrokeWidth":1,"padding":0,"labelOffset":3}}
   }},
  {"data":{"name":"sim"},
   "mark":{"type":"point","opacity":0},
   "encoding":{"shape":{"field":"s","type":"nominal",
     "scale":{"domain":["symptoms","genes","biological p","molecular f","cellular c","pathway"],"range":["M-1,-1H1V1H-1Z M-0.62,-0.02L-0.15,0.45L0.62,-0.55","M-1,-1H1V1H-1Z M-0.62,-0.02L-0.15,0.45L0.62,-0.55","M-1,-1H1V1H-1Z M-0.62,-0.02L-0.15,0.45L0.62,-0.55","M-1,-1H1V1H-1Z M-0.62,-0.02L-0.15,0.45L0.62,-0.55","M-1,-1H1V1H-1Z M-0.62,-0.02L-0.15,0.45L0.62,-0.55","M-1,-1H1V1H-1Z M-0.62,-0.02L-0.15,0.45L0.62,-0.55"]},
     "legend":{"orient":"none","legendX":7,"legendY":-47,"direction":"horizontal","columns":6,"title":"SIMILARITY:","titleFontSize":11,"titleFontWeight":"normal","titleColor":"#222222","titlePadding":3,"symbolSize":340,"symbolStrokeColor":"#222222","symbolFillColor":"#ffffff","symbolStrokeWidth":1.3,"symbolOpacity":1,"labelFontSize":17,"labelColor":"#222222","labelOffset":7,"columnPadding":15,"padding":0,"labelLimit":300}}}}
 ]}
]
}
